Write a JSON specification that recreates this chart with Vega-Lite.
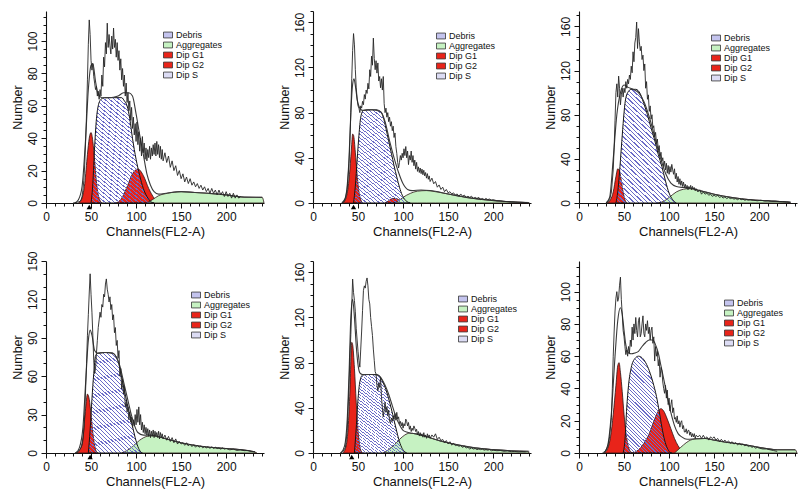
{
"$schema":"https://vega.github.io/schema/vega-lite/v6.json",
"padding":{"left":11,"top":10,"right":2,"bottom":2},
"config":{
 "view":{"stroke":null},
 "axis":{"domainColor":"#111","tickColor":"#111","labelColor":"#111","titleColor":"#111","labelFont":"Liberation Sans","titleFont":"Liberation Sans","labelFontSize":12,"titleFontSize":12.5,"titleFontWeight":"normal","grid":false,"domainWidth":1.1,"tickWidth":1,"labelOverlap":false,"labelFlush":false},
 "legend":{"labelFont":"Liberation Sans","labelFontSize":9,"labelColor":"#111","symbolType":"M-1,-0.65H1V0.65H-1Z","symbolSize":81,"symbolStrokeColor":"#333","symbolStrokeWidth":0.8,"rowPadding":0,"labelOffset":3,"padding":0,"symbolOpacity":1}
},
"datasets":{
"c1":[{"c":"Dip G1","x":36,"y":0},{"c":"Dip G1","x":40,"y":3},{"c":"Dip G1","x":43,"y":12},{"c":"Dip G1","x":46,"y":30},{"c":"Dip G1","x":48,"y":40},{"c":"Dip G1","x":50,"y":43.5},{"c":"Dip G1","x":52,"y":38},{"c":"Dip G1","x":54,"y":26},{"c":"Dip G1","x":56,"y":13},{"c":"Dip G1","x":58,"y":5},{"c":"Dip G1","x":60,"y":1.5},{"c":"Dip G1","x":62,"y":0},
{"c":"Dip G2","x":78,"y":0},{"c":"Dip G2","x":84,"y":3},{"c":"Dip G2","x":90,"y":10},{"c":"Dip G2","x":96,"y":18},{"c":"Dip G2","x":102,"y":21},{"c":"Dip G2","x":108,"y":17},{"c":"Dip G2","x":114,"y":9},{"c":"Dip G2","x":120,"y":3},{"c":"Dip G2","x":125,"y":0},
{"c":"Aggregates","x":112,"y":0},{"c":"Aggregates","x":118,"y":2},{"c":"Aggregates","x":125,"y":4.5},{"c":"Aggregates","x":135,"y":6},{"c":"Aggregates","x":150,"y":7},{"c":"Aggregates","x":165,"y":6.5},{"c":"Aggregates","x":180,"y":6},{"c":"Aggregates","x":200,"y":5},{"c":"Aggregates","x":212,"y":4},{"c":"Aggregates","x":220,"y":3.6},{"c":"Aggregates","x":240,"y":3.5},{"c":"Aggregates","x":242,"y":0}],
"s1":[{"x":50,"y":0},{"x":52,"y":12},{"x":54,"y":35},{"x":56,"y":52},{"x":58,"y":60},{"x":61,"y":64},{"x":65,"y":65},{"x":75,"y":65},{"x":84,"y":65},{"x":87,"y":63},{"x":90,"y":60},{"x":93,"y":52},{"x":96,"y":40},{"x":100,"y":27},{"x":104,"y":17},{"x":108,"y":9},{"x":112,"y":4},{"x":116,"y":1},{"x":120,"y":0}],
"f1":[{"x":32,"y":0},{"x":36,"y":2},{"x":40,"y":10},{"x":44,"y":40},{"x":47,"y":70},{"x":50,"y":85},{"x":52,"y":86},{"x":55,"y":75},{"x":58,"y":67},{"x":62,"y":65},{"x":70,"y":65},{"x":80,"y":66},{"x":86,"y":68},{"x":92,"y":68},{"x":96,"y":66},{"x":100,"y":55},{"x":104,"y":42},{"x":108,"y":30},{"x":112,"y":18},{"x":116,"y":11},{"x":120,"y":7},{"x":125,"y":5.5},{"x":135,"y":6.2},{"x":150,"y":7},{"x":165,"y":6.5},{"x":180,"y":6},{"x":200,"y":5},{"x":212,"y":4},{"x":220,"y":3.6},{"x":240,"y":3.5}],
"r1":[{"x":30,"y":0},{"x":35,"y":0.5},{"x":38,"y":1},{"x":39,"y":2},{"x":40,"y":4},{"x":41,"y":8},{"x":42,"y":14},{"x":43,"y":24},{"x":44,"y":38},{"x":45,"y":55},{"x":46,"y":76},{"x":47,"y":98},{"x":48,"y":113},{"x":49,"y":104},{"x":50,"y":88},{"x":51,"y":82},{"x":52,"y":86},{"x":53,"y":78},{"x":54,"y":74},{"x":55,"y":70},{"x":56,"y":72},{"x":57,"y":66},{"x":58,"y":69},{"x":59,"y":64},{"x":60,"y":70},{"x":61,"y":66},{"x":62,"y":79},{"x":63,"y":72},{"x":64,"y":90},{"x":65,"y":84},{"x":66,"y":99},{"x":67,"y":92},{"x":68,"y":111},{"x":69,"y":96},{"x":70,"y":104},{"x":71,"y":97},{"x":72,"y":92},{"x":73,"y":103},{"x":74,"y":95},{"x":75,"y":108},{"x":76,"y":96},{"x":77,"y":101},{"x":78,"y":90},{"x":79,"y":99},{"x":80,"y":88},{"x":81,"y":94},{"x":82,"y":82},{"x":83,"y":89},{"x":84,"y":76},{"x":85,"y":83},{"x":86,"y":72},{"x":87,"y":79},{"x":88,"y":66},{"x":89,"y":74},{"x":90,"y":62},{"x":91,"y":68},{"x":92,"y":57},{"x":93,"y":63},{"x":94,"y":51},{"x":95,"y":59},{"x":96,"y":46},{"x":97,"y":53},{"x":98,"y":42},{"x":99,"y":49},{"x":100,"y":38},{"x":101,"y":50},{"x":102,"y":36},{"x":103,"y":44},{"x":104,"y":32},{"x":105,"y":40},{"x":106,"y":29},{"x":107,"y":41},{"x":108,"y":31},{"x":109,"y":37},{"x":110,"y":27},{"x":111,"y":34},{"x":112,"y":26},{"x":113,"y":33},{"x":114,"y":28},{"x":115,"y":35},{"x":116,"y":27},{"x":117,"y":34},{"x":118,"y":29},{"x":119,"y":36},{"x":120,"y":30},{"x":121,"y":37},{"x":122,"y":29},{"x":123,"y":38},{"x":124,"y":30},{"x":125,"y":36},{"x":126,"y":28},{"x":127,"y":35},{"x":128,"y":27},{"x":129,"y":33},{"x":130,"y":26},{"x":132,"y":31},{"x":134,"y":25},{"x":136,"y":29},{"x":138,"y":22},{"x":140,"y":26},{"x":142,"y":20},{"x":144,"y":23},{"x":146,"y":17},{"x":148,"y":20},{"x":150,"y":15},{"x":152,"y":18},{"x":154,"y":13},{"x":156,"y":16},{"x":158,"y":12},{"x":160,"y":15},{"x":162,"y":11},{"x":164,"y":13},{"x":166,"y":10},{"x":168,"y":12},{"x":170,"y":9},{"x":172,"y":11},{"x":174,"y":8},{"x":176,"y":10},{"x":178,"y":7},{"x":180,"y":9},{"x":182,"y":6},{"x":184,"y":9},{"x":186,"y":6},{"x":188,"y":8},{"x":190,"y":5},{"x":192,"y":8},{"x":194,"y":5},{"x":196,"y":7},{"x":198,"y":4},{"x":200,"y":7},{"x":202,"y":4},{"x":204,"y":6},{"x":206,"y":3},{"x":208,"y":6},{"x":210,"y":3},{"x":212,"y":5},{"x":214,"y":3},{"x":216,"y":4}],
"t1":[{"x":48,"y":0}],
"c2":[{"c":"Dip G1","x":33,"y":0},{"c":"Dip G1","x":36,"y":3},{"c":"Dip G1","x":39,"y":14},{"c":"Dip G1","x":41,"y":30},{"c":"Dip G1","x":43,"y":52},{"c":"Dip G1","x":44,"y":61},{"c":"Dip G1","x":45,"y":60},{"c":"Dip G1","x":47,"y":45},{"c":"Dip G1","x":49,"y":25},{"c":"Dip G1","x":51,"y":10},{"c":"Dip G1","x":53,"y":3},{"c":"Dip G1","x":55,"y":0},
{"c":"Dip G2","x":80,"y":0},{"c":"Dip G2","x":84,"y":2},{"c":"Dip G2","x":88,"y":4},{"c":"Dip G2","x":92,"y":4},{"c":"Dip G2","x":96,"y":2.5},{"c":"Dip G2","x":100,"y":0.5},{"c":"Dip G2","x":103,"y":0},
{"c":"Aggregates","x":90,"y":0},{"c":"Aggregates","x":95,"y":2},{"c":"Aggregates","x":100,"y":5},{"c":"Aggregates","x":108,"y":8.5},{"c":"Aggregates","x":116,"y":10.5},{"c":"Aggregates","x":126,"y":11},{"c":"Aggregates","x":136,"y":10},{"c":"Aggregates","x":150,"y":8},{"c":"Aggregates","x":170,"y":5},{"c":"Aggregates","x":190,"y":3},{"c":"Aggregates","x":210,"y":1.5},{"c":"Aggregates","x":230,"y":0.7},{"c":"Aggregates","x":238,"y":0.3},{"c":"Aggregates","x":240,"y":0}],
"s2":[{"x":45,"y":0},{"x":47,"y":15},{"x":49,"y":38},{"x":51,"y":60},{"x":53,"y":76},{"x":56,"y":82},{"x":60,"y":82.5},{"x":70,"y":82.5},{"x":75,"y":81},{"x":78,"y":76},{"x":81,"y":66},{"x":84,"y":55},{"x":87,"y":44},{"x":90,"y":33},{"x":93,"y":23},{"x":96,"y":14},{"x":99,"y":7},{"x":102,"y":3},{"x":106,"y":0.5},{"x":108,"y":0}],
"f2":[{"x":32,"y":0},{"x":36,"y":5},{"x":40,"y":40},{"x":42,"y":80},{"x":44,"y":105},{"x":45.5,"y":110},{"x":47,"y":104},{"x":49,"y":92},{"x":52,"y":84},{"x":55,"y":82},{"x":65,"y":82.5},{"x":75,"y":81},{"x":80,"y":72},{"x":85,"y":55},{"x":90,"y":40},{"x":95,"y":27},{"x":100,"y":17},{"x":105,"y":12},{"x":110,"y":11},{"x":120,"y":11.5},{"x":130,"y":11},{"x":150,"y":8},{"x":170,"y":5},{"x":190,"y":3},{"x":210,"y":1.5},{"x":230,"y":0.7},{"x":240,"y":0.3}],
"r2":[{"x":32,"y":0},{"x":34,"y":1},{"x":36,"y":4},{"x":38,"y":12},{"x":40,"y":35},{"x":41,"y":55},{"x":42,"y":80},{"x":43,"y":110},{"x":44,"y":135},{"x":45,"y":150},{"x":46,"y":140},{"x":47,"y":118},{"x":48,"y":102},{"x":49,"y":92},{"x":50,"y":86},{"x":51,"y":84},{"x":52,"y":80},{"x":53,"y":86},{"x":54,"y":84},{"x":55,"y":90},{"x":56,"y":87},{"x":57,"y":96},{"x":58,"y":92},{"x":59,"y":100},{"x":60,"y":97},{"x":61,"y":106},{"x":62,"y":101},{"x":63,"y":118},{"x":64,"y":112},{"x":65,"y":130},{"x":66,"y":122},{"x":67,"y":146},{"x":68,"y":128},{"x":69,"y":118},{"x":70,"y":126},{"x":71,"y":115},{"x":72,"y":124},{"x":73,"y":108},{"x":74,"y":112},{"x":75,"y":102},{"x":76,"y":110},{"x":77,"y":100},{"x":78,"y":112},{"x":79,"y":88},{"x":80,"y":80},{"x":81,"y":84},{"x":82,"y":76},{"x":83,"y":80},{"x":84,"y":72},{"x":85,"y":76},{"x":86,"y":68},{"x":87,"y":72},{"x":88,"y":64},{"x":89,"y":68},{"x":90,"y":58},{"x":91,"y":62},{"x":92,"y":50},{"x":93,"y":44},{"x":94,"y":36},{"x":95,"y":31},{"x":96,"y":36},{"x":97,"y":42},{"x":98,"y":38},{"x":99,"y":44},{"x":100,"y":40},{"x":101,"y":48},{"x":102,"y":42},{"x":103,"y":50},{"x":104,"y":40},{"x":105,"y":46},{"x":106,"y":34},{"x":107,"y":42},{"x":108,"y":38},{"x":109,"y":46},{"x":110,"y":36},{"x":111,"y":42},{"x":112,"y":33},{"x":113,"y":38},{"x":114,"y":30},{"x":115,"y":36},{"x":116,"y":28},{"x":117,"y":32},{"x":118,"y":27},{"x":119,"y":31},{"x":120,"y":26},{"x":121,"y":30},{"x":122,"y":25},{"x":123,"y":29},{"x":124,"y":24},{"x":125,"y":27},{"x":126,"y":22},{"x":127,"y":26},{"x":128,"y":21},{"x":129,"y":24},{"x":130,"y":19},{"x":132,"y":22},{"x":134,"y":17},{"x":136,"y":19},{"x":138,"y":14},{"x":140,"y":16},{"x":142,"y":12},{"x":144,"y":14},{"x":146,"y":10},{"x":148,"y":12},{"x":150,"y":9},{"x":152,"y":10},{"x":154,"y":8},{"x":156,"y":9},{"x":158,"y":7},{"x":160,"y":8},{"x":162,"y":6},{"x":164,"y":8},{"x":166,"y":6},{"x":168,"y":7},{"x":170,"y":5},{"x":172,"y":6},{"x":174,"y":5},{"x":176,"y":6},{"x":178,"y":4},{"x":180,"y":5},{"x":182,"y":4},{"x":184,"y":5},{"x":186,"y":3},{"x":188,"y":4},{"x":190,"y":3},{"x":192,"y":4},{"x":194,"y":3},{"x":196,"y":3.5},{"x":198,"y":2.5},{"x":200,"y":3},{"x":204,"y":2},{"x":208,"y":2},{"x":212,"y":1.5},{"x":216,"y":1.2},{"x":220,"y":1},{"x":225,"y":0.8},{"x":230,"y":0.6},{"x":235,"y":0.4},{"x":238,"y":0.3}],
"t2":[{"x":45,"y":0}],
"c3":[{"c":"Dip G1","x":31,"y":0},{"c":"Dip G1","x":35,"y":3},{"c":"Dip G1","x":38,"y":10},{"c":"Dip G1","x":41,"y":24},{"c":"Dip G1","x":43,"y":31},{"c":"Dip G1","x":45,"y":29},{"c":"Dip G1","x":47,"y":20},{"c":"Dip G1","x":49,"y":10},{"c":"Dip G1","x":51,"y":3},{"c":"Dip G1","x":53,"y":0},
{"c":"Aggregates","x":88,"y":0},{"c":"Aggregates","x":95,"y":2},{"c":"Aggregates","x":100,"y":5},{"c":"Aggregates","x":108,"y":10},{"c":"Aggregates","x":116,"y":12.5},{"c":"Aggregates","x":122,"y":13},{"c":"Aggregates","x":130,"y":12},{"c":"Aggregates","x":140,"y":10},{"c":"Aggregates","x":150,"y":8},{"c":"Aggregates","x":170,"y":5},{"c":"Aggregates","x":190,"y":3},{"c":"Aggregates","x":210,"y":2},{"c":"Aggregates","x":225,"y":1.2},{"c":"Aggregates","x":232,"y":0.8},{"c":"Aggregates","x":235,"y":0}],
"s3":[{"x":41,"y":0},{"x":43,"y":10},{"x":45,"y":28},{"x":47,"y":50},{"x":49,"y":72},{"x":51,"y":90},{"x":54,"y":100},{"x":58,"y":103},{"x":63,"y":103},{"x":68,"y":99},{"x":72,"y":90},{"x":76,"y":80},{"x":80,"y":68},{"x":84,"y":57},{"x":88,"y":44},{"x":92,"y":33},{"x":96,"y":20},{"x":100,"y":9},{"x":104,"y":3},{"x":108,"y":0}],
"f3":[{"x":30,"y":0},{"x":34,"y":5},{"x":38,"y":40},{"x":42,"y":80},{"x":46,"y":100},{"x":50,"y":107},{"x":54,"y":105},{"x":60,"y":103},{"x":66,"y":100},{"x":72,"y":92},{"x":78,"y":78},{"x":84,"y":60},{"x":90,"y":42},{"x":96,"y":27},{"x":102,"y":18},{"x":108,"y":15},{"x":116,"y":14},{"x":124,"y":13.5},{"x":135,"y":11},{"x":150,"y":8},{"x":170,"y":5},{"x":190,"y":3},{"x":210,"y":2},{"x":225,"y":1.2},{"x":235,"y":0.8}],
"r3":[{"x":30,"y":0},{"x":32,"y":1},{"x":34,"y":3},{"x":36,"y":10},{"x":38,"y":30},{"x":39,"y":50},{"x":40,"y":75},{"x":41,"y":100},{"x":42,"y":108},{"x":43,"y":96},{"x":44,"y":115},{"x":45,"y":104},{"x":46,"y":89},{"x":47,"y":98},{"x":48,"y":104},{"x":49,"y":96},{"x":50,"y":104},{"x":51,"y":100},{"x":52,"y":110},{"x":53,"y":104},{"x":54,"y":112},{"x":55,"y":108},{"x":56,"y":116},{"x":57,"y":112},{"x":58,"y":124},{"x":59,"y":118},{"x":60,"y":137},{"x":61,"y":128},{"x":62,"y":145},{"x":63,"y":150},{"x":64,"y":164},{"x":65,"y":140},{"x":66,"y":158},{"x":67,"y":146},{"x":68,"y":138},{"x":69,"y":142},{"x":70,"y":130},{"x":71,"y":134},{"x":72,"y":120},{"x":73,"y":126},{"x":74,"y":104},{"x":75,"y":110},{"x":76,"y":94},{"x":77,"y":98},{"x":78,"y":83},{"x":79,"y":88},{"x":80,"y":76},{"x":81,"y":80},{"x":82,"y":68},{"x":83,"y":70},{"x":84,"y":60},{"x":85,"y":64},{"x":86,"y":54},{"x":87,"y":58},{"x":88,"y":48},{"x":89,"y":52},{"x":90,"y":42},{"x":91,"y":46},{"x":92,"y":38},{"x":93,"y":41},{"x":94,"y":33},{"x":95,"y":38},{"x":96,"y":30},{"x":97,"y":36},{"x":98,"y":27},{"x":99,"y":34},{"x":100,"y":26},{"x":101,"y":33},{"x":102,"y":28},{"x":103,"y":35},{"x":104,"y":30},{"x":105,"y":26},{"x":106,"y":31},{"x":107,"y":22},{"x":108,"y":27},{"x":109,"y":19},{"x":110,"y":24},{"x":111,"y":17},{"x":112,"y":22},{"x":113,"y":16},{"x":114,"y":20},{"x":115,"y":15},{"x":116,"y":19},{"x":117,"y":14},{"x":118,"y":17},{"x":119,"y":13},{"x":120,"y":16},{"x":121,"y":12},{"x":122,"y":15},{"x":123,"y":13},{"x":124,"y":16},{"x":125,"y":12},{"x":126,"y":15},{"x":127,"y":13},{"x":128,"y":14},{"x":129,"y":11},{"x":130,"y":13},{"x":132,"y":10},{"x":134,"y":12},{"x":136,"y":8},{"x":138,"y":10},{"x":140,"y":8},{"x":142,"y":9},{"x":144,"y":7},{"x":146,"y":8},{"x":148,"y":6},{"x":150,"y":7},{"x":152,"y":6},{"x":154,"y":7},{"x":156,"y":5},{"x":158,"y":6},{"x":160,"y":4.5},{"x":162,"y":5.5},{"x":164,"y":4},{"x":166,"y":5},{"x":168,"y":4},{"x":170,"y":4.5},{"x":172,"y":3.5},{"x":174,"y":4},{"x":176,"y":3},{"x":178,"y":4},{"x":180,"y":3},{"x":182,"y":3.5},{"x":184,"y":2.5},{"x":186,"y":3},{"x":188,"y":2.5},{"x":190,"y":3},{"x":194,"y":2.5},{"x":198,"y":2},{"x":202,"y":2.5},{"x":206,"y":1.8},{"x":210,"y":2},{"x":214,"y":1.5},{"x":218,"y":1.6},{"x":222,"y":1.2},{"x":226,"y":1.3},{"x":230,"y":1},{"x":234,"y":0.8}],
"c4":[{"c":"Dip G1","x":34,"y":0},{"c":"Dip G1","x":38,"y":3},{"c":"Dip G1","x":41,"y":12},{"c":"Dip G1","x":44,"y":35},{"c":"Dip G1","x":46,"y":46},{"c":"Dip G1","x":48,"y":42},{"c":"Dip G1","x":50,"y":30},{"c":"Dip G1","x":52,"y":16},{"c":"Dip G1","x":54,"y":6},{"c":"Dip G1","x":56,"y":1},{"c":"Dip G1","x":58,"y":0},
{"c":"Aggregates","x":84,"y":0},{"c":"Aggregates","x":90,"y":2},{"c":"Aggregates","x":96,"y":5},{"c":"Aggregates","x":104,"y":10},{"c":"Aggregates","x":112,"y":13},{"c":"Aggregates","x":118,"y":13.5},{"c":"Aggregates","x":126,"y":12.5},{"c":"Aggregates","x":136,"y":10.5},{"c":"Aggregates","x":150,"y":8},{"c":"Aggregates","x":170,"y":5.5},{"c":"Aggregates","x":190,"y":4},{"c":"Aggregates","x":210,"y":3},{"c":"Aggregates","x":225,"y":1.8},{"c":"Aggregates","x":232,"y":0.8},{"c":"Aggregates","x":234,"y":0}],
"s4":[{"x":47,"y":0},{"x":49,"y":18},{"x":51,"y":42},{"x":53,"y":62},{"x":55,"y":76},{"x":58,"y":78},{"x":66,"y":78.5},{"x":74,"y":78},{"x":78,"y":75},{"x":81,"y":69},{"x":84,"y":59},{"x":87,"y":49},{"x":90,"y":39},{"x":93,"y":30},{"x":96,"y":21},{"x":99,"y":12},{"x":102,"y":5},{"x":105,"y":1},{"x":107,"y":0}],
"f4":[{"x":33,"y":0},{"x":37,"y":4},{"x":41,"y":20},{"x":44,"y":55},{"x":47,"y":88},{"x":49,"y":96},{"x":51,"y":92},{"x":54,"y":80},{"x":57,"y":78},{"x":65,"y":78.5},{"x":74,"y":78},{"x":78,"y":75},{"x":82,"y":68},{"x":86,"y":56},{"x":90,"y":44},{"x":94,"y":32},{"x":98,"y":22},{"x":102,"y":16},{"x":108,"y":14},{"x":116,"y":14},{"x":126,"y":12.5},{"x":136,"y":10.5},{"x":150,"y":8},{"x":170,"y":5.5},{"x":190,"y":4},{"x":210,"y":3},{"x":225,"y":1.8},{"x":232,"y":1}],
"r4":[{"x":32,"y":0},{"x":35,"y":1},{"x":38,"y":3},{"x":40,"y":6},{"x":41,"y":10},{"x":42,"y":18},{"x":43,"y":30},{"x":44,"y":50},{"x":45,"y":70},{"x":46,"y":92},{"x":47,"y":108},{"x":48,"y":125},{"x":49,"y":140},{"x":50,"y":124},{"x":51,"y":110},{"x":52,"y":92},{"x":53,"y":72},{"x":54,"y":62},{"x":55,"y":66},{"x":56,"y":78},{"x":57,"y":88},{"x":58,"y":98},{"x":59,"y":104},{"x":60,"y":110},{"x":61,"y":106},{"x":62,"y":116},{"x":63,"y":114},{"x":64,"y":124},{"x":65,"y":122},{"x":66,"y":132},{"x":67,"y":136},{"x":68,"y":128},{"x":69,"y":124},{"x":70,"y":118},{"x":71,"y":122},{"x":72,"y":112},{"x":73,"y":116},{"x":74,"y":104},{"x":75,"y":108},{"x":76,"y":94},{"x":77,"y":98},{"x":78,"y":84},{"x":79,"y":88},{"x":80,"y":74},{"x":81,"y":80},{"x":82,"y":60},{"x":83,"y":66},{"x":84,"y":50},{"x":85,"y":58},{"x":86,"y":46},{"x":87,"y":52},{"x":88,"y":36},{"x":89,"y":40},{"x":90,"y":32},{"x":91,"y":36},{"x":92,"y":26},{"x":93,"y":32},{"x":94,"y":24},{"x":95,"y":28},{"x":96,"y":20},{"x":97,"y":26},{"x":98,"y":21},{"x":99,"y":30},{"x":100,"y":22},{"x":101,"y":34},{"x":102,"y":24},{"x":103,"y":36},{"x":104,"y":22},{"x":105,"y":30},{"x":106,"y":18},{"x":107,"y":24},{"x":108,"y":16},{"x":109,"y":22},{"x":110,"y":15},{"x":111,"y":20},{"x":112,"y":14},{"x":113,"y":19},{"x":114,"y":13},{"x":115,"y":18},{"x":116,"y":12},{"x":117,"y":17},{"x":118,"y":13},{"x":119,"y":18},{"x":120,"y":12},{"x":121,"y":17},{"x":122,"y":13},{"x":123,"y":16},{"x":124,"y":12},{"x":125,"y":17},{"x":126,"y":11},{"x":127,"y":16},{"x":128,"y":12},{"x":129,"y":15},{"x":130,"y":11},{"x":132,"y":14},{"x":134,"y":10},{"x":136,"y":13},{"x":138,"y":9},{"x":140,"y":12},{"x":142,"y":8},{"x":144,"y":11},{"x":146,"y":7},{"x":148,"y":9},{"x":150,"y":7},{"x":152,"y":8},{"x":154,"y":6},{"x":156,"y":8},{"x":158,"y":5.5},{"x":160,"y":7},{"x":162,"y":5},{"x":164,"y":6.5},{"x":166,"y":4.5},{"x":168,"y":6},{"x":170,"y":4.5},{"x":172,"y":5.5},{"x":174,"y":4},{"x":176,"y":5},{"x":178,"y":4},{"x":180,"y":5},{"x":182,"y":3.5},{"x":184,"y":5},{"x":186,"y":3.5},{"x":188,"y":4.5},{"x":190,"y":3.5},{"x":192,"y":4},{"x":194,"y":3},{"x":196,"y":4},{"x":198,"y":3},{"x":200,"y":3.5},{"x":204,"y":2.5},{"x":208,"y":3},{"x":212,"y":2},{"x":216,"y":2.5},{"x":220,"y":1.8},{"x":224,"y":2},{"x":228,"y":1.2},{"x":232,"y":0.8}],
"t4":[{"x":49,"y":0}],
"c5":[{"c":"Dip G1","x":33,"y":0},{"c":"Dip G1","x":36,"y":4},{"c":"Dip G1","x":39,"y":22},{"c":"Dip G1","x":41,"y":55},{"c":"Dip G1","x":43,"y":98},{"c":"Dip G1","x":44,"y":96},{"c":"Dip G1","x":46,"y":75},{"c":"Dip G1","x":48,"y":45},{"c":"Dip G1","x":50,"y":20},{"c":"Dip G1","x":52,"y":6},{"c":"Dip G1","x":54,"y":1},{"c":"Dip G1","x":56,"y":0},
{"c":"Aggregates","x":78,"y":0},{"c":"Aggregates","x":84,"y":3},{"c":"Aggregates","x":90,"y":7},{"c":"Aggregates","x":96,"y":12},{"c":"Aggregates","x":102,"y":16},{"c":"Aggregates","x":107,"y":17.5},{"c":"Aggregates","x":114,"y":17},{"c":"Aggregates","x":122,"y":15.5},{"c":"Aggregates","x":132,"y":13},{"c":"Aggregates","x":142,"y":10.5},{"c":"Aggregates","x":150,"y":9},{"c":"Aggregates","x":165,"y":6.5},{"c":"Aggregates","x":180,"y":4.5},{"c":"Aggregates","x":200,"y":3},{"c":"Aggregates","x":220,"y":2},{"c":"Aggregates","x":238,"y":1.5},{"c":"Aggregates","x":240,"y":0}],
"s5":[{"x":46,"y":0},{"x":48,"y":22},{"x":50,"y":48},{"x":52,"y":63},{"x":55,"y":69},{"x":62,"y":69.5},{"x":70,"y":69.5},{"x":74,"y":68},{"x":78,"y":62},{"x":81,"y":56},{"x":84,"y":48},{"x":87,"y":39},{"x":90,"y":29},{"x":93,"y":19},{"x":96,"y":10},{"x":99,"y":4},{"x":102,"y":1},{"x":104,"y":0}],
"f5":[{"x":31,"y":0},{"x":35,"y":6},{"x":38,"y":30},{"x":40,"y":70},{"x":42,"y":120},{"x":44,"y":136},{"x":46,"y":120},{"x":48,"y":95},{"x":50,"y":78},{"x":52,"y":71},{"x":55,"y":69.5},{"x":65,"y":69.5},{"x":72,"y":69},{"x":76,"y":66},{"x":80,"y":60},{"x":84,"y":52},{"x":88,"y":42},{"x":92,"y":32},{"x":96,"y":25},{"x":100,"y":20},{"x":104,"y":18.5},{"x":110,"y":17.5},{"x":120,"y":16},{"x":130,"y":13.5},{"x":142,"y":10.5},{"x":150,"y":9},{"x":165,"y":6.5},{"x":180,"y":4.5},{"x":200,"y":3},{"x":220,"y":2},{"x":240,"y":1.5}],
"r5":[{"x":30,"y":0},{"x":33,"y":1},{"x":36,"y":5},{"x":38,"y":20},{"x":40,"y":60},{"x":41,"y":85},{"x":42,"y":105},{"x":43,"y":130},{"x":44,"y":154},{"x":45,"y":142},{"x":46,"y":135},{"x":47,"y":125},{"x":48,"y":110},{"x":49,"y":100},{"x":50,"y":90},{"x":51,"y":82},{"x":52,"y":76},{"x":53,"y":92},{"x":54,"y":108},{"x":55,"y":126},{"x":56,"y":144},{"x":57,"y":148},{"x":58,"y":146},{"x":59,"y":152},{"x":60,"y":155},{"x":61,"y":148},{"x":62,"y":136},{"x":63,"y":132},{"x":64,"y":120},{"x":65,"y":112},{"x":66,"y":104},{"x":67,"y":92},{"x":68,"y":82},{"x":69,"y":72},{"x":70,"y":70},{"x":71,"y":60},{"x":72,"y":55},{"x":73,"y":62},{"x":74,"y":58},{"x":75,"y":67},{"x":76,"y":50},{"x":77,"y":40},{"x":78,"y":32},{"x":79,"y":38},{"x":80,"y":45},{"x":81,"y":36},{"x":82,"y":41},{"x":83,"y":33},{"x":84,"y":38},{"x":85,"y":28},{"x":86,"y":26},{"x":87,"y":31},{"x":88,"y":28},{"x":89,"y":33},{"x":90,"y":30},{"x":91,"y":35},{"x":92,"y":29},{"x":93,"y":36},{"x":94,"y":30},{"x":95,"y":32},{"x":96,"y":26},{"x":97,"y":28},{"x":98,"y":24},{"x":99,"y":27},{"x":100,"y":22},{"x":101,"y":26},{"x":102,"y":24},{"x":103,"y":30},{"x":104,"y":28},{"x":105,"y":24},{"x":106,"y":27},{"x":107,"y":21},{"x":108,"y":24},{"x":109,"y":19},{"x":110,"y":22},{"x":111,"y":20},{"x":112,"y":24},{"x":113,"y":22},{"x":114,"y":19},{"x":115,"y":21},{"x":116,"y":16},{"x":117,"y":19},{"x":118,"y":15},{"x":119,"y":18},{"x":120,"y":15},{"x":121,"y":17},{"x":122,"y":14},{"x":123,"y":18},{"x":124,"y":14},{"x":125,"y":16},{"x":126,"y":13},{"x":127,"y":17},{"x":128,"y":14},{"x":129,"y":16},{"x":130,"y":13},{"x":132,"y":16},{"x":134,"y":14},{"x":136,"y":17},{"x":138,"y":12},{"x":140,"y":14},{"x":142,"y":11},{"x":144,"y":12},{"x":146,"y":9},{"x":148,"y":11},{"x":150,"y":8},{"x":152,"y":10},{"x":154,"y":7},{"x":156,"y":8.5},{"x":158,"y":6.5},{"x":160,"y":7},{"x":162,"y":6},{"x":164,"y":6.5},{"x":166,"y":5},{"x":168,"y":6},{"x":170,"y":4.5},{"x":172,"y":5},{"x":174,"y":3.5},{"x":176,"y":4.5},{"x":178,"y":3.5},{"x":180,"y":4},{"x":182,"y":3},{"x":184,"y":3.5},{"x":186,"y":3},{"x":188,"y":3.5},{"x":190,"y":2.5},{"x":192,"y":3},{"x":194,"y":2.5},{"x":196,"y":3},{"x":198,"y":2},{"x":200,"y":2.5},{"x":204,"y":2},{"x":208,"y":2.2},{"x":212,"y":1.5},{"x":216,"y":1.8},{"x":220,"y":1.2},{"x":224,"y":1.4},{"x":228,"y":1},{"x":232,"y":1.2},{"x":236,"y":1}],
"t5":[{"x":43,"y":0}],
"c6":[{"c":"Dip G1","x":28,"y":0},{"c":"Dip G1","x":32,"y":3},{"c":"Dip G1","x":35,"y":10},{"c":"Dip G1","x":38,"y":24},{"c":"Dip G1","x":41,"y":42},{"c":"Dip G1","x":43,"y":54},{"c":"Dip G1","x":44.5,"y":56},{"c":"Dip G1","x":46,"y":50},{"c":"Dip G1","x":48,"y":38},{"c":"Dip G1","x":50,"y":24},{"c":"Dip G1","x":52,"y":13},{"c":"Dip G1","x":54,"y":6},{"c":"Dip G1","x":56,"y":2},{"c":"Dip G1","x":58,"y":0.5},{"c":"Dip G1","x":60,"y":0},
{"c":"Dip G2","x":60,"y":0},{"c":"Dip G2","x":66,"y":2},{"c":"Dip G2","x":72,"y":6},{"c":"Dip G2","x":78,"y":12},{"c":"Dip G2","x":84,"y":21},{"c":"Dip G2","x":88,"y":26},{"c":"Dip G2","x":91,"y":27.5},{"c":"Dip G2","x":94,"y":26},{"c":"Dip G2","x":98,"y":21},{"c":"Dip G2","x":102,"y":15},{"c":"Dip G2","x":106,"y":9},{"c":"Dip G2","x":110,"y":4.5},{"c":"Dip G2","x":114,"y":1.5},{"c":"Dip G2","x":118,"y":0.3},{"c":"Dip G2","x":120,"y":0},
{"c":"Aggregates","x":106,"y":0},{"c":"Aggregates","x":110,"y":2},{"c":"Aggregates","x":116,"y":5},{"c":"Aggregates","x":122,"y":7.5},{"c":"Aggregates","x":130,"y":8.8},{"c":"Aggregates","x":140,"y":9},{"c":"Aggregates","x":150,"y":8},{"c":"Aggregates","x":165,"y":6.5},{"c":"Aggregates","x":180,"y":5.5},{"c":"Aggregates","x":195,"y":4},{"c":"Aggregates","x":208,"y":2.8},{"c":"Aggregates","x":215,"y":2.2},{"c":"Aggregates","x":220,"y":2},{"c":"Aggregates","x":240,"y":2},{"c":"Aggregates","x":242,"y":0}],
"s6":[{"x":49,"y":0},{"x":51,"y":8},{"x":53,"y":28},{"x":55,"y":42},{"x":58,"y":53},{"x":62,"y":58.5},{"x":66,"y":60},{"x":70,"y":59},{"x":74,"y":56},{"x":78,"y":51},{"x":82,"y":44},{"x":86,"y":35},{"x":89,"y":26},{"x":92,"y":16},{"x":95,"y":8},{"x":98,"y":3},{"x":101,"y":0.5},{"x":103,"y":0}],
"f6":[{"x":28,"y":0},{"x":32,"y":5},{"x":36,"y":25},{"x":40,"y":60},{"x":43,"y":82},{"x":46,"y":90},{"x":48,"y":86},{"x":50,"y":76},{"x":52,"y":67},{"x":55,"y":62},{"x":58,"y":61.5},{"x":62,"y":62},{"x":66,"y":63},{"x":70,"y":66},{"x":74,"y":68.5},{"x":78,"y":70},{"x":82,"y":70},{"x":85,"y":67},{"x":88,"y":62},{"x":91,"y":54},{"x":94,"y":46},{"x":98,"y":35},{"x":102,"y":25},{"x":106,"y":17},{"x":110,"y":12},{"x":114,"y":10},{"x":120,"y":8.5},{"x":130,"y":8.8},{"x":140,"y":9},{"x":150,"y":8},{"x":165,"y":6.5},{"x":180,"y":5.5},{"x":195,"y":4},{"x":208,"y":2.8},{"x":220,"y":2},{"x":240,"y":2}],
"r6":[{"x":26,"y":0},{"x":29,"y":1},{"x":32,"y":4},{"x":34,"y":10},{"x":36,"y":22},{"x":37,"y":40},{"x":38,"y":60},{"x":39,"y":75},{"x":40,"y":88},{"x":41,"y":96},{"x":42,"y":100},{"x":43,"y":94},{"x":44,"y":96},{"x":45,"y":104},{"x":46,"y":109},{"x":47,"y":95},{"x":48,"y":86},{"x":49,"y":76},{"x":50,"y":72},{"x":51,"y":66},{"x":52,"y":61},{"x":53,"y":64},{"x":54,"y":60},{"x":55,"y":66},{"x":56,"y":62},{"x":57,"y":70},{"x":58,"y":66},{"x":59,"y":78},{"x":60,"y":70},{"x":61,"y":80},{"x":62,"y":74},{"x":63,"y":84},{"x":64,"y":76},{"x":65,"y":72},{"x":66,"y":82},{"x":67,"y":84},{"x":68,"y":72},{"x":69,"y":74},{"x":70,"y":80},{"x":71,"y":85},{"x":72,"y":74},{"x":73,"y":72},{"x":74,"y":80},{"x":75,"y":76},{"x":76,"y":82},{"x":77,"y":74},{"x":78,"y":78},{"x":79,"y":70},{"x":80,"y":76},{"x":81,"y":78},{"x":82,"y":68},{"x":83,"y":72},{"x":84,"y":57},{"x":85,"y":66},{"x":86,"y":60},{"x":87,"y":63},{"x":88,"y":54},{"x":89,"y":58},{"x":90,"y":47},{"x":91,"y":53},{"x":92,"y":51},{"x":93,"y":44},{"x":94,"y":40},{"x":95,"y":37},{"x":96,"y":42},{"x":97,"y":34},{"x":98,"y":39},{"x":99,"y":30},{"x":100,"y":34},{"x":101,"y":26},{"x":102,"y":30},{"x":103,"y":33},{"x":104,"y":25},{"x":105,"y":28},{"x":106,"y":21},{"x":107,"y":22},{"x":108,"y":19},{"x":109,"y":23},{"x":110,"y":18},{"x":111,"y":20},{"x":112,"y":16},{"x":113,"y":19},{"x":114,"y":20},{"x":115,"y":15},{"x":116,"y":17},{"x":117,"y":13},{"x":118,"y":13},{"x":119,"y":15},{"x":120,"y":12},{"x":121,"y":14},{"x":122,"y":14},{"x":123,"y":11},{"x":124,"y":13},{"x":125,"y":10},{"x":126,"y":12},{"x":127,"y":10},{"x":128,"y":12},{"x":129,"y":9},{"x":130,"y":11},{"x":132,"y":10},{"x":134,"y":11},{"x":136,"y":9},{"x":138,"y":11},{"x":140,"y":9},{"x":142,"y":10},{"x":144,"y":8},{"x":146,"y":10},{"x":148,"y":9},{"x":150,"y":10},{"x":152,"y":8},{"x":154,"y":9},{"x":156,"y":7},{"x":158,"y":8.5},{"x":160,"y":7},{"x":162,"y":8},{"x":164,"y":6.5},{"x":166,"y":7.5},{"x":168,"y":6},{"x":170,"y":7},{"x":172,"y":5.5},{"x":174,"y":6.5},{"x":176,"y":5},{"x":178,"y":6},{"x":180,"y":5},{"x":182,"y":5.5},{"x":184,"y":4.5},{"x":186,"y":5},{"x":188,"y":4},{"x":190,"y":4.5},{"x":192,"y":3.5},{"x":194,"y":4},{"x":196,"y":3},{"x":198,"y":3.5},{"x":200,"y":3},{"x":204,"y":2.5},{"x":208,"y":2.5},{"x":212,"y":2},{"x":216,"y":1.5},{"x":220,"y":1}]
},
"columns":3,
"spacing":{"row":12,"column":12},
"resolve":{"scale":{"fill":"independent"},"legend":{"fill":"independent"}},
"concat":[
{"width":218,"height":192,
 "encoding":{
  "x":{"field":"x","type":"quantitative","scale":{"domain":[0,242],"nice":false,"zero":false},"axis":{"title":"Channels(FL2-A)","values":[0,10,20,30,40,50,60,70,80,90,100,110,120,130,140,150,160,170,180,190,200,210,220,230,240],"labelExpr":"datum.value % 50 === 0 ? datum.label : ''","tickSize":{"condition":{"test":"datum.value % 50 === 0","value":5},"value":3},"labelPadding":3,"titlePadding":3,"titleFontSize":13}},
  "y":{"field":"y","type":"quantitative","stack":null,"scale":{"domain":[0,118.5],"nice":false},"axis":{"title":"Number","values":[0,5,10,15,20,25,30,35,40,45,50,55,60,65,70,75,80,85,90,95,100,105,110,115],"labelExpr":"datum.value % 20 === 0 ? datum.label : ''","tickSize":{"condition":{"test":"datum.value % 20 === 0","value":5},"value":3},"labelAngle":270,"labelAlign":"center","labelBaseline":"bottom","labelPadding":2,"titlePadding":2}}},
 "layer":[
  {"data":{"name":"c1"},"mark":{"type":"area","interpolate":"monotone","stroke":"#2a1414","strokeWidth":0.8,"fillOpacity":1},"encoding":{"fill":{"field":"c","type":"nominal","scale":{"domain":["Debris","Aggregates","Dip G1","Dip G2","Dip S"],"range":["#c4c4ee","#c6f2c2","#e8241a","#e8241a","#dcdcf4"]},"legend":{"title":null,"orient":"none","legendX":117,"legendY":19}}}},
  {"data":{"name":"s1"},"mark":{"type":"area","interpolate":"monotone","stroke":"#151515","strokeWidth":1,"fill":{"gradient":"linear","x1":0,"y1":1,"x2":1,"y2":-1,"stops":[{"offset":0,"color":"#6c6cc8"},{"offset":0.0045,"color":"#6c6cc8"},{"offset":0.0045,"color":"transparent"},{"offset":0.015,"color":"transparent"},{"offset":0.015,"color":"#6c6cc8"},{"offset":0.0195,"color":"#6c6cc8"},{"offset":0.0195,"color":"transparent"},{"offset":0.03,"color":"transparent"},{"offset":0.03,"color":"#6c6cc8"},{"offset":0.0345,"color":"#6c6cc8"},{"offset":0.0345,"color":"transparent"},{"offset":0.045,"color":"transparent"},{"offset":0.045,"color":"#6c6cc8"},{"offset":0.0495,"color":"#6c6cc8"},{"offset":0.0495,"color":"transparent"},{"offset":0.06,"color":"transparent"},{"offset":0.06,"color":"#6c6cc8"},{"offset":0.0645,"color":"#6c6cc8"},{"offset":0.0645,"color":"transparent"},{"offset":0.075,"color":"transparent"},{"offset":0.075,"color":"#6c6cc8"},{"offset":0.0795,"color":"#6c6cc8"},{"offset":0.0795,"color":"transparent"},{"offset":0.09,"color":"transparent"},{"offset":0.09,"color":"#6c6cc8"},{"offset":0.0945,"color":"#6c6cc8"},{"offset":0.0945,"color":"transparent"},{"offset":0.105,"color":"transparent"},{"offset":0.105,"color":"#6c6cc8"},{"offset":0.1095,"color":"#6c6cc8"},{"offset":0.1095,"color":"transparent"},{"offset":0.12,"color":"transparent"},{"offset":0.12,"color":"#6c6cc8"},{"offset":0.1245,"color":"#6c6cc8"},{"offset":0.1245,"color":"transparent"},{"offset":0.135,"color":"transparent"},{"offset":0.135,"color":"#6c6cc8"},{"offset":0.1395,"color":"#6c6cc8"},{"offset":0.1395,"color":"transparent"},{"offset":0.15,"color":"transparent"},{"offset":0.15,"color":"#6c6cc8"},{"offset":0.1545,"color":"#6c6cc8"},{"offset":0.1545,"color":"transparent"},{"offset":0.165,"color":"transparent"},{"offset":0.165,"color":"#6c6cc8"},{"offset":0.1695,"color":"#6c6cc8"},{"offset":0.1695,"color":"transparent"},{"offset":0.18,"color":"transparent"},{"offset":0.18,"color":"#6c6cc8"},{"offset":0.1845,"color":"#6c6cc8"},{"offset":0.1845,"color":"transparent"},{"offset":0.195,"color":"transparent"},{"offset":0.195,"color":"#6c6cc8"},{"offset":0.1995,"color":"#6c6cc8"},{"offset":0.1995,"color":"transparent"},{"offset":0.21,"color":"transparent"},{"offset":0.21,"color":"#6c6cc8"},{"offset":0.2145,"color":"#6c6cc8"},{"offset":0.2145,"color":"transparent"},{"offset":0.225,"color":"transparent"},{"offset":0.225,"color":"#6c6cc8"},{"offset":0.2295,"color":"#6c6cc8"},{"offset":0.2295,"color":"transparent"},{"offset":0.24,"color":"transparent"},{"offset":0.24,"color":"#6c6cc8"},{"offset":0.2445,"color":"#6c6cc8"},{"offset":0.2445,"color":"transparent"},{"offset":0.255,"color":"transparent"},{"offset":0.255,"color":"#6c6cc8"},{"offset":0.2595,"color":"#6c6cc8"},{"offset":0.2595,"color":"transparent"},{"offset":0.27,"color":"transparent"},{"offset":0.27,"color":"#6c6cc8"},{"offset":0.2745,"color":"#6c6cc8"},{"offset":0.2745,"color":"transparent"},{"offset":0.285,"color":"transparent"},{"offset":0.285,"color":"#6c6cc8"},{"offset":0.2895,"color":"#6c6cc8"},{"offset":0.2895,"color":"transparent"},{"offset":0.3,"color":"transparent"},{"offset":0.3,"color":"#6c6cc8"},{"offset":0.3045,"color":"#6c6cc8"},{"offset":0.3045,"color":"transparent"},{"offset":0.315,"color":"transparent"},{"offset":0.315,"color":"#6c6cc8"},{"offset":0.3195,"color":"#6c6cc8"},{"offset":0.3195,"color":"transparent"},{"offset":0.33,"color":"transparent"},{"offset":0.33,"color":"#6c6cc8"},{"offset":0.3345,"color":"#6c6cc8"},{"offset":0.3345,"color":"transparent"},{"offset":0.345,"color":"transparent"},{"offset":0.345,"color":"#6c6cc8"},{"offset":0.3495,"color":"#6c6cc8"},{"offset":0.3495,"color":"transparent"},{"offset":0.36,"color":"transparent"},{"offset":0.36,"color":"#6c6cc8"},{"offset":0.3645,"color":"#6c6cc8"},{"offset":0.3645,"color":"transparent"},{"offset":0.375,"color":"transparent"},{"offset":0.375,"color":"#6c6cc8"},{"offset":0.3795,"color":"#6c6cc8"},{"offset":0.3795,"color":"transparent"},{"offset":0.39,"color":"transparent"},{"offset":0.39,"color":"#6c6cc8"},{"offset":0.3945,"color":"#6c6cc8"},{"offset":0.3945,"color":"transparent"},{"offset":0.405,"color":"transparent"},{"offset":0.405,"color":"#6c6cc8"},{"offset":0.4095,"color":"#6c6cc8"},{"offset":0.4095,"color":"transparent"},{"offset":0.42,"color":"transparent"},{"offset":0.42,"color":"#6c6cc8"},{"offset":0.4245,"color":"#6c6cc8"},{"offset":0.4245,"color":"transparent"},{"offset":0.435,"color":"transparent"},{"offset":0.435,"color":"#6c6cc8"},{"offset":0.4395,"color":"#6c6cc8"},{"offset":0.4395,"color":"transparent"},{"offset":0.45,"color":"transparent"},{"offset":0.45,"color":"#6c6cc8"},{"offset":0.4545,"color":"#6c6cc8"},{"offset":0.4545,"color":"transparent"},{"offset":0.465,"color":"transparent"},{"offset":0.465,"color":"#6c6cc8"},{"offset":0.4695,"color":"#6c6cc8"},{"offset":0.4695,"color":"transparent"},{"offset":0.48,"color":"transparent"},{"offset":0.48,"color":"#6c6cc8"},{"offset":0.4845,"color":"#6c6cc8"},{"offset":0.4845,"color":"transparent"},{"offset":0.495,"color":"transparent"},{"offset":0.495,"color":"#6c6cc8"},{"offset":0.4995,"color":"#6c6cc8"},{"offset":0.4995,"color":"transparent"},{"offset":0.51,"color":"transparent"},{"offset":0.51,"color":"#6c6cc8"},{"offset":0.5145,"color":"#6c6cc8"},{"offset":0.5145,"color":"transparent"},{"offset":0.525,"color":"transparent"},{"offset":0.525,"color":"#6c6cc8"},{"offset":0.5295,"color":"#6c6cc8"},{"offset":0.5295,"color":"transparent"},{"offset":0.54,"color":"transparent"},{"offset":0.54,"color":"#6c6cc8"},{"offset":0.5445,"color":"#6c6cc8"},{"offset":0.5445,"color":"transparent"},{"offset":0.555,"color":"transparent"},{"offset":0.555,"color":"#6c6cc8"},{"offset":0.5595,"color":"#6c6cc8"},{"offset":0.5595,"color":"transparent"},{"offset":0.57,"color":"transparent"},{"offset":0.57,"color":"#6c6cc8"},{"offset":0.5745,"color":"#6c6cc8"},{"offset":0.5745,"color":"transparent"},{"offset":0.585,"color":"transparent"},{"offset":0.585,"color":"#6c6cc8"},{"offset":0.5895,"color":"#6c6cc8"},{"offset":0.5895,"color":"transparent"},{"offset":1,"color":"transparent"}]}},"encoding":{}},
  {"data":{"name":"f1"},"mark":{"type":"line","interpolate":"monotone","color":"#3a3a3a","strokeWidth":1.1},"encoding":{}},
  {"data":{"name":"r1"},"mark":{"type":"line","color":"#262626","strokeWidth":0.9},"encoding":{}},
  {"data":{"name":"t1"},"mark":{"type":"point","shape":"triangle-up","filled":true,"size":28,"color":"#000","opacity":1,"yOffset":4},"encoding":{}}
 ]},
{"width":218,"height":192,
 "encoding":{
  "x":{"field":"x","type":"quantitative","scale":{"domain":[0,242],"nice":false,"zero":false},"axis":{"title":"Channels(FL2-A)","values":[0,10,20,30,40,50,60,70,80,90,100,110,120,130,140,150,160,170,180,190,200,210,220,230,240],"labelExpr":"datum.value % 50 === 0 ? datum.label : ''","tickSize":{"condition":{"test":"datum.value % 50 === 0","value":5},"value":3},"labelPadding":3,"titlePadding":3,"titleFontSize":13}},
  "y":{"field":"y","type":"quantitative","stack":null,"scale":{"domain":[0,170],"nice":false},"axis":{"title":"Number","values":[0,10,20,30,40,50,60,70,80,90,100,110,120,130,140,150,160,170],"labelExpr":"datum.value % 40 === 0 ? datum.label : ''","tickSize":{"condition":{"test":"datum.value % 40 === 0","value":5},"value":3},"labelAngle":270,"labelAlign":"center","labelBaseline":"bottom","labelPadding":2,"titlePadding":2}}},
 "layer":[
  {"data":{"name":"c2"},"mark":{"type":"area","interpolate":"monotone","stroke":"#2a1414","strokeWidth":0.8,"fillOpacity":1},"encoding":{"fill":{"field":"c","type":"nominal","scale":{"domain":["Debris","Aggregates","Dip G1","Dip G2","Dip S"],"range":["#c4c4ee","#c6f2c2","#e8241a","#e8241a","#dcdcf4"]},"legend":{"title":null,"orient":"none","legendX":123,"legendY":20}}}},
  {"data":{"name":"s2"},"mark":{"type":"area","interpolate":"monotone","stroke":"#151515","strokeWidth":1,"fill":{"gradient":"linear","x1":0,"y1":1,"x2":1,"y2":-1,"stops":[{"offset":0,"color":"#6c6cc8"},{"offset":0.0045,"color":"#6c6cc8"},{"offset":0.0045,"color":"transparent"},{"offset":0.015,"color":"transparent"},{"offset":0.015,"color":"#6c6cc8"},{"offset":0.0195,"color":"#6c6cc8"},{"offset":0.0195,"color":"transparent"},{"offset":0.03,"color":"transparent"},{"offset":0.03,"color":"#6c6cc8"},{"offset":0.0345,"color":"#6c6cc8"},{"offset":0.0345,"color":"transparent"},{"offset":0.045,"color":"transparent"},{"offset":0.045,"color":"#6c6cc8"},{"offset":0.0495,"color":"#6c6cc8"},{"offset":0.0495,"color":"transparent"},{"offset":0.06,"color":"transparent"},{"offset":0.06,"color":"#6c6cc8"},{"offset":0.0645,"color":"#6c6cc8"},{"offset":0.0645,"color":"transparent"},{"offset":0.075,"color":"transparent"},{"offset":0.075,"color":"#6c6cc8"},{"offset":0.0795,"color":"#6c6cc8"},{"offset":0.0795,"color":"transparent"},{"offset":0.09,"color":"transparent"},{"offset":0.09,"color":"#6c6cc8"},{"offset":0.0945,"color":"#6c6cc8"},{"offset":0.0945,"color":"transparent"},{"offset":0.105,"color":"transparent"},{"offset":0.105,"color":"#6c6cc8"},{"offset":0.1095,"color":"#6c6cc8"},{"offset":0.1095,"color":"transparent"},{"offset":0.12,"color":"transparent"},{"offset":0.12,"color":"#6c6cc8"},{"offset":0.1245,"color":"#6c6cc8"},{"offset":0.1245,"color":"transparent"},{"offset":0.135,"color":"transparent"},{"offset":0.135,"color":"#6c6cc8"},{"offset":0.1395,"color":"#6c6cc8"},{"offset":0.1395,"color":"transparent"},{"offset":0.15,"color":"transparent"},{"offset":0.15,"color":"#6c6cc8"},{"offset":0.1545,"color":"#6c6cc8"},{"offset":0.1545,"color":"transparent"},{"offset":0.165,"color":"transparent"},{"offset":0.165,"color":"#6c6cc8"},{"offset":0.1695,"color":"#6c6cc8"},{"offset":0.1695,"color":"transparent"},{"offset":0.18,"color":"transparent"},{"offset":0.18,"color":"#6c6cc8"},{"offset":0.1845,"color":"#6c6cc8"},{"offset":0.1845,"color":"transparent"},{"offset":0.195,"color":"transparent"},{"offset":0.195,"color":"#6c6cc8"},{"offset":0.1995,"color":"#6c6cc8"},{"offset":0.1995,"color":"transparent"},{"offset":0.21,"color":"transparent"},{"offset":0.21,"color":"#6c6cc8"},{"offset":0.2145,"color":"#6c6cc8"},{"offset":0.2145,"color":"transparent"},{"offset":0.225,"color":"transparent"},{"offset":0.225,"color":"#6c6cc8"},{"offset":0.2295,"color":"#6c6cc8"},{"offset":0.2295,"color":"transparent"},{"offset":0.24,"color":"transparent"},{"offset":0.24,"color":"#6c6cc8"},{"offset":0.2445,"color":"#6c6cc8"},{"offset":0.2445,"color":"transparent"},{"offset":0.255,"color":"transparent"},{"offset":0.255,"color":"#6c6cc8"},{"offset":0.2595,"color":"#6c6cc8"},{"offset":0.2595,"color":"transparent"},{"offset":0.27,"color":"transparent"},{"offset":0.27,"color":"#6c6cc8"},{"offset":0.2745,"color":"#6c6cc8"},{"offset":0.2745,"color":"transparent"},{"offset":0.285,"color":"transparent"},{"offset":0.285,"color":"#6c6cc8"},{"offset":0.2895,"color":"#6c6cc8"},{"offset":0.2895,"color":"transparent"},{"offset":0.3,"color":"transparent"},{"offset":0.3,"color":"#6c6cc8"},{"offset":0.3045,"color":"#6c6cc8"},{"offset":0.3045,"color":"transparent"},{"offset":0.315,"color":"transparent"},{"offset":0.315,"color":"#6c6cc8"},{"offset":0.3195,"color":"#6c6cc8"},{"offset":0.3195,"color":"transparent"},{"offset":0.33,"color":"transparent"},{"offset":0.33,"color":"#6c6cc8"},{"offset":0.3345,"color":"#6c6cc8"},{"offset":0.3345,"color":"transparent"},{"offset":0.345,"color":"transparent"},{"offset":0.345,"color":"#6c6cc8"},{"offset":0.3495,"color":"#6c6cc8"},{"offset":0.3495,"color":"transparent"},{"offset":0.36,"color":"transparent"},{"offset":0.36,"color":"#6c6cc8"},{"offset":0.3645,"color":"#6c6cc8"},{"offset":0.3645,"color":"transparent"},{"offset":0.375,"color":"transparent"},{"offset":0.375,"color":"#6c6cc8"},{"offset":0.3795,"color":"#6c6cc8"},{"offset":0.3795,"color":"transparent"},{"offset":0.39,"color":"transparent"},{"offset":0.39,"color":"#6c6cc8"},{"offset":0.3945,"color":"#6c6cc8"},{"offset":0.3945,"color":"transparent"},{"offset":0.405,"color":"transparent"},{"offset":0.405,"color":"#6c6cc8"},{"offset":0.4095,"color":"#6c6cc8"},{"offset":0.4095,"color":"transparent"},{"offset":0.42,"color":"transparent"},{"offset":0.42,"color":"#6c6cc8"},{"offset":0.4245,"color":"#6c6cc8"},{"offset":0.4245,"color":"transparent"},{"offset":0.435,"color":"transparent"},{"offset":0.435,"color":"#6c6cc8"},{"offset":0.4395,"color":"#6c6cc8"},{"offset":0.4395,"color":"transparent"},{"offset":0.45,"color":"transparent"},{"offset":0.45,"color":"#6c6cc8"},{"offset":0.4545,"color":"#6c6cc8"},{"offset":0.4545,"color":"transparent"},{"offset":0.465,"color":"transparent"},{"offset":0.465,"color":"#6c6cc8"},{"offset":0.4695,"color":"#6c6cc8"},{"offset":0.4695,"color":"transparent"},{"offset":0.48,"color":"transparent"},{"offset":0.48,"color":"#6c6cc8"},{"offset":0.4845,"color":"#6c6cc8"},{"offset":0.4845,"color":"transparent"},{"offset":0.495,"color":"transparent"},{"offset":0.495,"color":"#6c6cc8"},{"offset":0.4995,"color":"#6c6cc8"},{"offset":0.4995,"color":"transparent"},{"offset":0.51,"color":"transparent"},{"offset":0.51,"color":"#6c6cc8"},{"offset":0.5145,"color":"#6c6cc8"},{"offset":0.5145,"color":"transparent"},{"offset":0.525,"color":"transparent"},{"offset":0.525,"color":"#6c6cc8"},{"offset":0.5295,"color":"#6c6cc8"},{"offset":0.5295,"color":"transparent"},{"offset":0.54,"color":"transparent"},{"offset":0.54,"color":"#6c6cc8"},{"offset":0.5445,"color":"#6c6cc8"},{"offset":0.5445,"color":"transparent"},{"offset":0.555,"color":"transparent"},{"offset":0.555,"color":"#6c6cc8"},{"offset":0.5595,"color":"#6c6cc8"},{"offset":0.5595,"color":"transparent"},{"offset":0.57,"color":"transparent"},{"offset":0.57,"color":"#6c6cc8"},{"offset":0.5745,"color":"#6c6cc8"},{"offset":0.5745,"color":"transparent"},{"offset":0.585,"color":"transparent"},{"offset":0.585,"color":"#6c6cc8"},{"offset":0.5895,"color":"#6c6cc8"},{"offset":0.5895,"color":"transparent"},{"offset":1,"color":"transparent"}]}},"encoding":{}},
  {"data":{"name":"f2"},"mark":{"type":"line","interpolate":"monotone","color":"#3a3a3a","strokeWidth":1.1},"encoding":{}},
  {"data":{"name":"r2"},"mark":{"type":"line","color":"#262626","strokeWidth":0.9},"encoding":{}},
  {"data":{"name":"t2"},"mark":{"type":"point","shape":"triangle-up","filled":true,"size":28,"color":"#000","opacity":1,"yOffset":4},"encoding":{}}
 ]},
{"width":218,"height":192,
 "encoding":{
  "x":{"field":"x","type":"quantitative","scale":{"domain":[0,242],"nice":false,"zero":false},"axis":{"title":"Channels(FL2-A)","values":[0,10,20,30,40,50,60,70,80,90,100,110,120,130,140,150,160,170,180,190,200,210,220,230,240],"labelExpr":"datum.value % 50 === 0 ? datum.label : ''","tickSize":{"condition":{"test":"datum.value % 50 === 0","value":5},"value":3},"labelPadding":3,"titlePadding":3,"titleFontSize":13}},
  "y":{"field":"y","type":"quantitative","stack":null,"scale":{"domain":[0,174],"nice":false},"axis":{"title":"Number","values":[0,10,20,30,40,50,60,70,80,90,100,110,120,130,140,150,160,170],"labelExpr":"datum.value % 40 === 0 ? datum.label : ''","tickSize":{"condition":{"test":"datum.value % 40 === 0","value":5},"value":3},"labelAngle":270,"labelAlign":"center","labelBaseline":"bottom","labelPadding":2,"titlePadding":2}}},
 "layer":[
  {"data":{"name":"c3"},"mark":{"type":"area","interpolate":"monotone","stroke":"#2a1414","strokeWidth":0.8,"fillOpacity":1},"encoding":{"fill":{"field":"c","type":"nominal","scale":{"domain":["Debris","Aggregates","Dip G1","Dip G2","Dip S"],"range":["#c4c4ee","#c6f2c2","#e8241a","#e8241a","#dcdcf4"]},"legend":{"title":null,"orient":"none","legendX":132,"legendY":22}}}},
  {"data":{"name":"s3"},"mark":{"type":"area","interpolate":"monotone","stroke":"#151515","strokeWidth":1,"fill":{"gradient":"linear","x1":0,"y1":1,"x2":1,"y2":-1,"stops":[{"offset":0,"color":"#6c6cc8"},{"offset":0.0045,"color":"#6c6cc8"},{"offset":0.0045,"color":"transparent"},{"offset":0.015,"color":"transparent"},{"offset":0.015,"color":"#6c6cc8"},{"offset":0.0195,"color":"#6c6cc8"},{"offset":0.0195,"color":"transparent"},{"offset":0.03,"color":"transparent"},{"offset":0.03,"color":"#6c6cc8"},{"offset":0.0345,"color":"#6c6cc8"},{"offset":0.0345,"color":"transparent"},{"offset":0.045,"color":"transparent"},{"offset":0.045,"color":"#6c6cc8"},{"offset":0.0495,"color":"#6c6cc8"},{"offset":0.0495,"color":"transparent"},{"offset":0.06,"color":"transparent"},{"offset":0.06,"color":"#6c6cc8"},{"offset":0.0645,"color":"#6c6cc8"},{"offset":0.0645,"color":"transparent"},{"offset":0.075,"color":"transparent"},{"offset":0.075,"color":"#6c6cc8"},{"offset":0.0795,"color":"#6c6cc8"},{"offset":0.0795,"color":"transparent"},{"offset":0.09,"color":"transparent"},{"offset":0.09,"color":"#6c6cc8"},{"offset":0.0945,"color":"#6c6cc8"},{"offset":0.0945,"color":"transparent"},{"offset":0.105,"color":"transparent"},{"offset":0.105,"color":"#6c6cc8"},{"offset":0.1095,"color":"#6c6cc8"},{"offset":0.1095,"color":"transparent"},{"offset":0.12,"color":"transparent"},{"offset":0.12,"color":"#6c6cc8"},{"offset":0.1245,"color":"#6c6cc8"},{"offset":0.1245,"color":"transparent"},{"offset":0.135,"color":"transparent"},{"offset":0.135,"color":"#6c6cc8"},{"offset":0.1395,"color":"#6c6cc8"},{"offset":0.1395,"color":"transparent"},{"offset":0.15,"color":"transparent"},{"offset":0.15,"color":"#6c6cc8"},{"offset":0.1545,"color":"#6c6cc8"},{"offset":0.1545,"color":"transparent"},{"offset":0.165,"color":"transparent"},{"offset":0.165,"color":"#6c6cc8"},{"offset":0.1695,"color":"#6c6cc8"},{"offset":0.1695,"color":"transparent"},{"offset":0.18,"color":"transparent"},{"offset":0.18,"color":"#6c6cc8"},{"offset":0.1845,"color":"#6c6cc8"},{"offset":0.1845,"color":"transparent"},{"offset":0.195,"color":"transparent"},{"offset":0.195,"color":"#6c6cc8"},{"offset":0.1995,"color":"#6c6cc8"},{"offset":0.1995,"color":"transparent"},{"offset":0.21,"color":"transparent"},{"offset":0.21,"color":"#6c6cc8"},{"offset":0.2145,"color":"#6c6cc8"},{"offset":0.2145,"color":"transparent"},{"offset":0.225,"color":"transparent"},{"offset":0.225,"color":"#6c6cc8"},{"offset":0.2295,"color":"#6c6cc8"},{"offset":0.2295,"color":"transparent"},{"offset":0.24,"color":"transparent"},{"offset":0.24,"color":"#6c6cc8"},{"offset":0.2445,"color":"#6c6cc8"},{"offset":0.2445,"color":"transparent"},{"offset":0.255,"color":"transparent"},{"offset":0.255,"color":"#6c6cc8"},{"offset":0.2595,"color":"#6c6cc8"},{"offset":0.2595,"color":"transparent"},{"offset":0.27,"color":"transparent"},{"offset":0.27,"color":"#6c6cc8"},{"offset":0.2745,"color":"#6c6cc8"},{"offset":0.2745,"color":"transparent"},{"offset":0.285,"color":"transparent"},{"offset":0.285,"color":"#6c6cc8"},{"offset":0.2895,"color":"#6c6cc8"},{"offset":0.2895,"color":"transparent"},{"offset":0.3,"color":"transparent"},{"offset":0.3,"color":"#6c6cc8"},{"offset":0.3045,"color":"#6c6cc8"},{"offset":0.3045,"color":"transparent"},{"offset":0.315,"color":"transparent"},{"offset":0.315,"color":"#6c6cc8"},{"offset":0.3195,"color":"#6c6cc8"},{"offset":0.3195,"color":"transparent"},{"offset":0.33,"color":"transparent"},{"offset":0.33,"color":"#6c6cc8"},{"offset":0.3345,"color":"#6c6cc8"},{"offset":0.3345,"color":"transparent"},{"offset":0.345,"color":"transparent"},{"offset":0.345,"color":"#6c6cc8"},{"offset":0.3495,"color":"#6c6cc8"},{"offset":0.3495,"color":"transparent"},{"offset":0.36,"color":"transparent"},{"offset":0.36,"color":"#6c6cc8"},{"offset":0.3645,"color":"#6c6cc8"},{"offset":0.3645,"color":"transparent"},{"offset":0.375,"color":"transparent"},{"offset":0.375,"color":"#6c6cc8"},{"offset":0.3795,"color":"#6c6cc8"},{"offset":0.3795,"color":"transparent"},{"offset":0.39,"color":"transparent"},{"offset":0.39,"color":"#6c6cc8"},{"offset":0.3945,"color":"#6c6cc8"},{"offset":0.3945,"color":"transparent"},{"offset":0.405,"color":"transparent"},{"offset":0.405,"color":"#6c6cc8"},{"offset":0.4095,"color":"#6c6cc8"},{"offset":0.4095,"color":"transparent"},{"offset":0.42,"color":"transparent"},{"offset":0.42,"color":"#6c6cc8"},{"offset":0.4245,"color":"#6c6cc8"},{"offset":0.4245,"color":"transparent"},{"offset":0.435,"color":"transparent"},{"offset":0.435,"color":"#6c6cc8"},{"offset":0.4395,"color":"#6c6cc8"},{"offset":0.4395,"color":"transparent"},{"offset":0.45,"color":"transparent"},{"offset":0.45,"color":"#6c6cc8"},{"offset":0.4545,"color":"#6c6cc8"},{"offset":0.4545,"color":"transparent"},{"offset":0.465,"color":"transparent"},{"offset":0.465,"color":"#6c6cc8"},{"offset":0.4695,"color":"#6c6cc8"},{"offset":0.4695,"color":"transparent"},{"offset":0.48,"color":"transparent"},{"offset":0.48,"color":"#6c6cc8"},{"offset":0.4845,"color":"#6c6cc8"},{"offset":0.4845,"color":"transparent"},{"offset":0.495,"color":"transparent"},{"offset":0.495,"color":"#6c6cc8"},{"offset":0.4995,"color":"#6c6cc8"},{"offset":0.4995,"color":"transparent"},{"offset":0.51,"color":"transparent"},{"offset":0.51,"color":"#6c6cc8"},{"offset":0.5145,"color":"#6c6cc8"},{"offset":0.5145,"color":"transparent"},{"offset":0.525,"color":"transparent"},{"offset":0.525,"color":"#6c6cc8"},{"offset":0.5295,"color":"#6c6cc8"},{"offset":0.5295,"color":"transparent"},{"offset":0.54,"color":"transparent"},{"offset":0.54,"color":"#6c6cc8"},{"offset":0.5445,"color":"#6c6cc8"},{"offset":0.5445,"color":"transparent"},{"offset":0.555,"color":"transparent"},{"offset":0.555,"color":"#6c6cc8"},{"offset":0.5595,"color":"#6c6cc8"},{"offset":0.5595,"color":"transparent"},{"offset":0.57,"color":"transparent"},{"offset":0.57,"color":"#6c6cc8"},{"offset":0.5745,"color":"#6c6cc8"},{"offset":0.5745,"color":"transparent"},{"offset":0.585,"color":"transparent"},{"offset":0.585,"color":"#6c6cc8"},{"offset":0.5895,"color":"#6c6cc8"},{"offset":0.5895,"color":"transparent"},{"offset":1,"color":"transparent"}]}},"encoding":{}},
  {"data":{"name":"f3"},"mark":{"type":"line","interpolate":"monotone","color":"#3a3a3a","strokeWidth":1.1},"encoding":{}},
  {"data":{"name":"r3"},"mark":{"type":"line","color":"#262626","strokeWidth":0.9},"encoding":{}}
 ]},
{"width":218,"height":192,
 "encoding":{
  "x":{"field":"x","type":"quantitative","scale":{"domain":[0,242],"nice":false,"zero":false},"axis":{"title":"Channels(FL2-A)","values":[0,10,20,30,40,50,60,70,80,90,100,110,120,130,140,150,160,170,180,190,200,210,220,230,240],"labelExpr":"datum.value % 50 === 0 ? datum.label : ''","tickSize":{"condition":{"test":"datum.value % 50 === 0","value":5},"value":3},"labelPadding":3,"titlePadding":3,"titleFontSize":13}},
  "y":{"field":"y","type":"quantitative","stack":null,"scale":{"domain":[0,150],"nice":false},"axis":{"title":"Number","values":[0,10,20,30,40,50,60,70,80,90,100,110,120,130,140,150],"labelExpr":"datum.value % 30 === 0 ? datum.label : ''","tickSize":{"condition":{"test":"datum.value % 30 === 0","value":5},"value":3},"labelAngle":270,"labelAlign":"center","labelBaseline":"bottom","labelPadding":2,"titlePadding":2}}},
 "layer":[
  {"data":{"name":"c4"},"mark":{"type":"area","interpolate":"monotone","stroke":"#2a1414","strokeWidth":0.8,"fillOpacity":1},"encoding":{"fill":{"field":"c","type":"nominal","scale":{"domain":["Debris","Aggregates","Dip G1","Dip G2","Dip S"],"range":["#c4c4ee","#c6f2c2","#e8241a","#e8241a","#dcdcf4"]},"legend":{"title":null,"orient":"none","legendX":145,"legendY":29}}}},
  {"data":{"name":"s4"},"mark":{"type":"area","interpolate":"monotone","stroke":"#151515","strokeWidth":1,"fill":{"gradient":"linear","x1":0,"y1":1,"x2":1,"y2":-1,"stops":[{"offset":0,"color":"#6c6cc8"},{"offset":0.0045,"color":"#6c6cc8"},{"offset":0.0045,"color":"transparent"},{"offset":0.015,"color":"transparent"},{"offset":0.015,"color":"#6c6cc8"},{"offset":0.0195,"color":"#6c6cc8"},{"offset":0.0195,"color":"transparent"},{"offset":0.03,"color":"transparent"},{"offset":0.03,"color":"#6c6cc8"},{"offset":0.0345,"color":"#6c6cc8"},{"offset":0.0345,"color":"transparent"},{"offset":0.045,"color":"transparent"},{"offset":0.045,"color":"#6c6cc8"},{"offset":0.0495,"color":"#6c6cc8"},{"offset":0.0495,"color":"transparent"},{"offset":0.06,"color":"transparent"},{"offset":0.06,"color":"#6c6cc8"},{"offset":0.0645,"color":"#6c6cc8"},{"offset":0.0645,"color":"transparent"},{"offset":0.075,"color":"transparent"},{"offset":0.075,"color":"#6c6cc8"},{"offset":0.0795,"color":"#6c6cc8"},{"offset":0.0795,"color":"transparent"},{"offset":0.09,"color":"transparent"},{"offset":0.09,"color":"#6c6cc8"},{"offset":0.0945,"color":"#6c6cc8"},{"offset":0.0945,"color":"transparent"},{"offset":0.105,"color":"transparent"},{"offset":0.105,"color":"#6c6cc8"},{"offset":0.1095,"color":"#6c6cc8"},{"offset":0.1095,"color":"transparent"},{"offset":0.12,"color":"transparent"},{"offset":0.12,"color":"#6c6cc8"},{"offset":0.1245,"color":"#6c6cc8"},{"offset":0.1245,"color":"transparent"},{"offset":0.135,"color":"transparent"},{"offset":0.135,"color":"#6c6cc8"},{"offset":0.1395,"color":"#6c6cc8"},{"offset":0.1395,"color":"transparent"},{"offset":0.15,"color":"transparent"},{"offset":0.15,"color":"#6c6cc8"},{"offset":0.1545,"color":"#6c6cc8"},{"offset":0.1545,"color":"transparent"},{"offset":0.165,"color":"transparent"},{"offset":0.165,"color":"#6c6cc8"},{"offset":0.1695,"color":"#6c6cc8"},{"offset":0.1695,"color":"transparent"},{"offset":0.18,"color":"transparent"},{"offset":0.18,"color":"#6c6cc8"},{"offset":0.1845,"color":"#6c6cc8"},{"offset":0.1845,"color":"transparent"},{"offset":0.195,"color":"transparent"},{"offset":0.195,"color":"#6c6cc8"},{"offset":0.1995,"color":"#6c6cc8"},{"offset":0.1995,"color":"transparent"},{"offset":0.21,"color":"transparent"},{"offset":0.21,"color":"#6c6cc8"},{"offset":0.2145,"color":"#6c6cc8"},{"offset":0.2145,"color":"transparent"},{"offset":0.225,"color":"transparent"},{"offset":0.225,"color":"#6c6cc8"},{"offset":0.2295,"color":"#6c6cc8"},{"offset":0.2295,"color":"transparent"},{"offset":0.24,"color":"transparent"},{"offset":0.24,"color":"#6c6cc8"},{"offset":0.2445,"color":"#6c6cc8"},{"offset":0.2445,"color":"transparent"},{"offset":0.255,"color":"transparent"},{"offset":0.255,"color":"#6c6cc8"},{"offset":0.2595,"color":"#6c6cc8"},{"offset":0.2595,"color":"transparent"},{"offset":0.27,"color":"transparent"},{"offset":0.27,"color":"#6c6cc8"},{"offset":0.2745,"color":"#6c6cc8"},{"offset":0.2745,"color":"transparent"},{"offset":0.285,"color":"transparent"},{"offset":0.285,"color":"#6c6cc8"},{"offset":0.2895,"color":"#6c6cc8"},{"offset":0.2895,"color":"transparent"},{"offset":0.3,"color":"transparent"},{"offset":0.3,"color":"#6c6cc8"},{"offset":0.3045,"color":"#6c6cc8"},{"offset":0.3045,"color":"transparent"},{"offset":0.315,"color":"transparent"},{"offset":0.315,"color":"#6c6cc8"},{"offset":0.3195,"color":"#6c6cc8"},{"offset":0.3195,"color":"transparent"},{"offset":0.33,"color":"transparent"},{"offset":0.33,"color":"#6c6cc8"},{"offset":0.3345,"color":"#6c6cc8"},{"offset":0.3345,"color":"transparent"},{"offset":0.345,"color":"transparent"},{"offset":0.345,"color":"#6c6cc8"},{"offset":0.3495,"color":"#6c6cc8"},{"offset":0.3495,"color":"transparent"},{"offset":0.36,"color":"transparent"},{"offset":0.36,"color":"#6c6cc8"},{"offset":0.3645,"color":"#6c6cc8"},{"offset":0.3645,"color":"transparent"},{"offset":0.375,"color":"transparent"},{"offset":0.375,"color":"#6c6cc8"},{"offset":0.3795,"color":"#6c6cc8"},{"offset":0.3795,"color":"transparent"},{"offset":0.39,"color":"transparent"},{"offset":0.39,"color":"#6c6cc8"},{"offset":0.3945,"color":"#6c6cc8"},{"offset":0.3945,"color":"transparent"},{"offset":0.405,"color":"transparent"},{"offset":0.405,"color":"#6c6cc8"},{"offset":0.4095,"color":"#6c6cc8"},{"offset":0.4095,"color":"transparent"},{"offset":0.42,"color":"transparent"},{"offset":0.42,"color":"#6c6cc8"},{"offset":0.4245,"color":"#6c6cc8"},{"offset":0.4245,"color":"transparent"},{"offset":0.435,"color":"transparent"},{"offset":0.435,"color":"#6c6cc8"},{"offset":0.4395,"color":"#6c6cc8"},{"offset":0.4395,"color":"transparent"},{"offset":0.45,"color":"transparent"},{"offset":0.45,"color":"#6c6cc8"},{"offset":0.4545,"color":"#6c6cc8"},{"offset":0.4545,"color":"transparent"},{"offset":0.465,"color":"transparent"},{"offset":0.465,"color":"#6c6cc8"},{"offset":0.4695,"color":"#6c6cc8"},{"offset":0.4695,"color":"transparent"},{"offset":0.48,"color":"transparent"},{"offset":0.48,"color":"#6c6cc8"},{"offset":0.4845,"color":"#6c6cc8"},{"offset":0.4845,"color":"transparent"},{"offset":0.495,"color":"transparent"},{"offset":0.495,"color":"#6c6cc8"},{"offset":0.4995,"color":"#6c6cc8"},{"offset":0.4995,"color":"transparent"},{"offset":0.51,"color":"transparent"},{"offset":0.51,"color":"#6c6cc8"},{"offset":0.5145,"color":"#6c6cc8"},{"offset":0.5145,"color":"transparent"},{"offset":0.525,"color":"transparent"},{"offset":0.525,"color":"#6c6cc8"},{"offset":0.5295,"color":"#6c6cc8"},{"offset":0.5295,"color":"transparent"},{"offset":0.54,"color":"transparent"},{"offset":0.54,"color":"#6c6cc8"},{"offset":0.5445,"color":"#6c6cc8"},{"offset":0.5445,"color":"transparent"},{"offset":0.555,"color":"transparent"},{"offset":0.555,"color":"#6c6cc8"},{"offset":0.5595,"color":"#6c6cc8"},{"offset":0.5595,"color":"transparent"},{"offset":0.57,"color":"transparent"},{"offset":0.57,"color":"#6c6cc8"},{"offset":0.5745,"color":"#6c6cc8"},{"offset":0.5745,"color":"transparent"},{"offset":0.585,"color":"transparent"},{"offset":0.585,"color":"#6c6cc8"},{"offset":0.5895,"color":"#6c6cc8"},{"offset":0.5895,"color":"transparent"},{"offset":1,"color":"transparent"}]}},"encoding":{}},
  {"data":{"name":"f4"},"mark":{"type":"line","interpolate":"monotone","color":"#3a3a3a","strokeWidth":1.1},"encoding":{}},
  {"data":{"name":"r4"},"mark":{"type":"line","color":"#262626","strokeWidth":0.9},"encoding":{}},
  {"data":{"name":"t4"},"mark":{"type":"point","shape":"triangle-up","filled":true,"size":28,"color":"#000","opacity":1,"yOffset":4},"encoding":{}}
 ]},
{"width":218,"height":192,
 "encoding":{
  "x":{"field":"x","type":"quantitative","scale":{"domain":[0,242],"nice":false,"zero":false},"axis":{"title":"Channels(FL2-A)","values":[0,10,20,30,40,50,60,70,80,90,100,110,120,130,140,150,160,170,180,190,200,210,220,230,240],"labelExpr":"datum.value % 50 === 0 ? datum.label : ''","tickSize":{"condition":{"test":"datum.value % 50 === 0","value":5},"value":3},"labelPadding":3,"titlePadding":3,"titleFontSize":13}},
  "y":{"field":"y","type":"quantitative","stack":null,"scale":{"domain":[0,170],"nice":false},"axis":{"title":"Number","values":[0,10,20,30,40,50,60,70,80,90,100,110,120,130,140,150,160,170],"labelExpr":"datum.value % 40 === 0 ? datum.label : ''","tickSize":{"condition":{"test":"datum.value % 40 === 0","value":5},"value":3},"labelAngle":270,"labelAlign":"center","labelBaseline":"bottom","labelPadding":2,"titlePadding":2}}},
 "layer":[
  {"data":{"name":"c5"},"mark":{"type":"area","interpolate":"monotone","stroke":"#2a1414","strokeWidth":0.8,"fillOpacity":1},"encoding":{"fill":{"field":"c","type":"nominal","scale":{"domain":["Debris","Aggregates","Dip G1","Dip G2","Dip S"],"range":["#c4c4ee","#c6f2c2","#e8241a","#e8241a","#dcdcf4"]},"legend":{"title":null,"orient":"none","legendX":145,"legendY":33}}}},
  {"data":{"name":"s5"},"mark":{"type":"area","interpolate":"monotone","stroke":"#151515","strokeWidth":1,"fill":{"gradient":"linear","x1":0,"y1":1,"x2":1,"y2":-1,"stops":[{"offset":0,"color":"#6c6cc8"},{"offset":0.0045,"color":"#6c6cc8"},{"offset":0.0045,"color":"transparent"},{"offset":0.015,"color":"transparent"},{"offset":0.015,"color":"#6c6cc8"},{"offset":0.0195,"color":"#6c6cc8"},{"offset":0.0195,"color":"transparent"},{"offset":0.03,"color":"transparent"},{"offset":0.03,"color":"#6c6cc8"},{"offset":0.0345,"color":"#6c6cc8"},{"offset":0.0345,"color":"transparent"},{"offset":0.045,"color":"transparent"},{"offset":0.045,"color":"#6c6cc8"},{"offset":0.0495,"color":"#6c6cc8"},{"offset":0.0495,"color":"transparent"},{"offset":0.06,"color":"transparent"},{"offset":0.06,"color":"#6c6cc8"},{"offset":0.0645,"color":"#6c6cc8"},{"offset":0.0645,"color":"transparent"},{"offset":0.075,"color":"transparent"},{"offset":0.075,"color":"#6c6cc8"},{"offset":0.0795,"color":"#6c6cc8"},{"offset":0.0795,"color":"transparent"},{"offset":0.09,"color":"transparent"},{"offset":0.09,"color":"#6c6cc8"},{"offset":0.0945,"color":"#6c6cc8"},{"offset":0.0945,"color":"transparent"},{"offset":0.105,"color":"transparent"},{"offset":0.105,"color":"#6c6cc8"},{"offset":0.1095,"color":"#6c6cc8"},{"offset":0.1095,"color":"transparent"},{"offset":0.12,"color":"transparent"},{"offset":0.12,"color":"#6c6cc8"},{"offset":0.1245,"color":"#6c6cc8"},{"offset":0.1245,"color":"transparent"},{"offset":0.135,"color":"transparent"},{"offset":0.135,"color":"#6c6cc8"},{"offset":0.1395,"color":"#6c6cc8"},{"offset":0.1395,"color":"transparent"},{"offset":0.15,"color":"transparent"},{"offset":0.15,"color":"#6c6cc8"},{"offset":0.1545,"color":"#6c6cc8"},{"offset":0.1545,"color":"transparent"},{"offset":0.165,"color":"transparent"},{"offset":0.165,"color":"#6c6cc8"},{"offset":0.1695,"color":"#6c6cc8"},{"offset":0.1695,"color":"transparent"},{"offset":0.18,"color":"transparent"},{"offset":0.18,"color":"#6c6cc8"},{"offset":0.1845,"color":"#6c6cc8"},{"offset":0.1845,"color":"transparent"},{"offset":0.195,"color":"transparent"},{"offset":0.195,"color":"#6c6cc8"},{"offset":0.1995,"color":"#6c6cc8"},{"offset":0.1995,"color":"transparent"},{"offset":0.21,"color":"transparent"},{"offset":0.21,"color":"#6c6cc8"},{"offset":0.2145,"color":"#6c6cc8"},{"offset":0.2145,"color":"transparent"},{"offset":0.225,"color":"transparent"},{"offset":0.225,"color":"#6c6cc8"},{"offset":0.2295,"color":"#6c6cc8"},{"offset":0.2295,"color":"transparent"},{"offset":0.24,"color":"transparent"},{"offset":0.24,"color":"#6c6cc8"},{"offset":0.2445,"color":"#6c6cc8"},{"offset":0.2445,"color":"transparent"},{"offset":0.255,"color":"transparent"},{"offset":0.255,"color":"#6c6cc8"},{"offset":0.2595,"color":"#6c6cc8"},{"offset":0.2595,"color":"transparent"},{"offset":0.27,"color":"transparent"},{"offset":0.27,"color":"#6c6cc8"},{"offset":0.2745,"color":"#6c6cc8"},{"offset":0.2745,"color":"transparent"},{"offset":0.285,"color":"transparent"},{"offset":0.285,"color":"#6c6cc8"},{"offset":0.2895,"color":"#6c6cc8"},{"offset":0.2895,"color":"transparent"},{"offset":0.3,"color":"transparent"},{"offset":0.3,"color":"#6c6cc8"},{"offset":0.3045,"color":"#6c6cc8"},{"offset":0.3045,"color":"transparent"},{"offset":0.315,"color":"transparent"},{"offset":0.315,"color":"#6c6cc8"},{"offset":0.3195,"color":"#6c6cc8"},{"offset":0.3195,"color":"transparent"},{"offset":0.33,"color":"transparent"},{"offset":0.33,"color":"#6c6cc8"},{"offset":0.3345,"color":"#6c6cc8"},{"offset":0.3345,"color":"transparent"},{"offset":0.345,"color":"transparent"},{"offset":0.345,"color":"#6c6cc8"},{"offset":0.3495,"color":"#6c6cc8"},{"offset":0.3495,"color":"transparent"},{"offset":0.36,"color":"transparent"},{"offset":0.36,"color":"#6c6cc8"},{"offset":0.3645,"color":"#6c6cc8"},{"offset":0.3645,"color":"transparent"},{"offset":0.375,"color":"transparent"},{"offset":0.375,"color":"#6c6cc8"},{"offset":0.3795,"color":"#6c6cc8"},{"offset":0.3795,"color":"transparent"},{"offset":0.39,"color":"transparent"},{"offset":0.39,"color":"#6c6cc8"},{"offset":0.3945,"color":"#6c6cc8"},{"offset":0.3945,"color":"transparent"},{"offset":0.405,"color":"transparent"},{"offset":0.405,"color":"#6c6cc8"},{"offset":0.4095,"color":"#6c6cc8"},{"offset":0.4095,"color":"transparent"},{"offset":0.42,"color":"transparent"},{"offset":0.42,"color":"#6c6cc8"},{"offset":0.4245,"color":"#6c6cc8"},{"offset":0.4245,"color":"transparent"},{"offset":0.435,"color":"transparent"},{"offset":0.435,"color":"#6c6cc8"},{"offset":0.4395,"color":"#6c6cc8"},{"offset":0.4395,"color":"transparent"},{"offset":0.45,"color":"transparent"},{"offset":0.45,"color":"#6c6cc8"},{"offset":0.4545,"color":"#6c6cc8"},{"offset":0.4545,"color":"transparent"},{"offset":0.465,"color":"transparent"},{"offset":0.465,"color":"#6c6cc8"},{"offset":0.4695,"color":"#6c6cc8"},{"offset":0.4695,"color":"transparent"},{"offset":0.48,"color":"transparent"},{"offset":0.48,"color":"#6c6cc8"},{"offset":0.4845,"color":"#6c6cc8"},{"offset":0.4845,"color":"transparent"},{"offset":0.495,"color":"transparent"},{"offset":0.495,"color":"#6c6cc8"},{"offset":0.4995,"color":"#6c6cc8"},{"offset":0.4995,"color":"transparent"},{"offset":0.51,"color":"transparent"},{"offset":0.51,"color":"#6c6cc8"},{"offset":0.5145,"color":"#6c6cc8"},{"offset":0.5145,"color":"transparent"},{"offset":0.525,"color":"transparent"},{"offset":0.525,"color":"#6c6cc8"},{"offset":0.5295,"color":"#6c6cc8"},{"offset":0.5295,"color":"transparent"},{"offset":0.54,"color":"transparent"},{"offset":0.54,"color":"#6c6cc8"},{"offset":0.5445,"color":"#6c6cc8"},{"offset":0.5445,"color":"transparent"},{"offset":0.555,"color":"transparent"},{"offset":0.555,"color":"#6c6cc8"},{"offset":0.5595,"color":"#6c6cc8"},{"offset":0.5595,"color":"transparent"},{"offset":0.57,"color":"transparent"},{"offset":0.57,"color":"#6c6cc8"},{"offset":0.5745,"color":"#6c6cc8"},{"offset":0.5745,"color":"transparent"},{"offset":0.585,"color":"transparent"},{"offset":0.585,"color":"#6c6cc8"},{"offset":0.5895,"color":"#6c6cc8"},{"offset":0.5895,"color":"transparent"},{"offset":1,"color":"transparent"}]}},"encoding":{}},
  {"data":{"name":"f5"},"mark":{"type":"line","interpolate":"monotone","color":"#3a3a3a","strokeWidth":1.1},"encoding":{}},
  {"data":{"name":"r5"},"mark":{"type":"line","color":"#262626","strokeWidth":0.9},"encoding":{}},
  {"data":{"name":"t5"},"mark":{"type":"point","shape":"triangle-up","filled":true,"size":28,"color":"#000","opacity":1,"yOffset":4},"encoding":{}}
 ]},
{"width":218,"height":192,
 "encoding":{
  "x":{"field":"x","type":"quantitative","scale":{"domain":[0,242],"nice":false,"zero":false},"axis":{"title":"Channels(FL2-A)","values":[0,10,20,30,40,50,60,70,80,90,100,110,120,130,140,150,160,170,180,190,200,210,220,230,240],"labelExpr":"datum.value % 50 === 0 ? datum.label : ''","tickSize":{"condition":{"test":"datum.value % 50 === 0","value":5},"value":3},"labelPadding":3,"titlePadding":3,"titleFontSize":13}},
  "y":{"field":"y","type":"quantitative","stack":null,"scale":{"domain":[0,119],"nice":false},"axis":{"title":"Number","values":[0,5,10,15,20,25,30,35,40,45,50,55,60,65,70,75,80,85,90,95,100,105,110,115],"labelExpr":"datum.value % 20 === 0 ? datum.label : ''","tickSize":{"condition":{"test":"datum.value % 20 === 0","value":5},"value":3},"labelAngle":270,"labelAlign":"center","labelBaseline":"bottom","labelPadding":2,"titlePadding":2}}},
 "layer":[
  {"data":{"name":"c6"},"mark":{"type":"area","interpolate":"monotone","stroke":"#2a1414","strokeWidth":0.8,"fillOpacity":1},"encoding":{"fill":{"field":"c","type":"nominal","scale":{"domain":["Debris","Aggregates","Dip G1","Dip G2","Dip S"],"range":["#c4c4ee","#c6f2c2","#e8241a","#e8241a","#dcdcf4"]},"legend":{"title":null,"orient":"none","legendX":145,"legendY":37}}}},
  {"data":{"name":"s6"},"mark":{"type":"area","interpolate":"monotone","stroke":"#151515","strokeWidth":1,"fill":{"gradient":"linear","x1":0,"y1":1,"x2":1,"y2":-1,"stops":[{"offset":0,"color":"#6c6cc8"},{"offset":0.0045,"color":"#6c6cc8"},{"offset":0.0045,"color":"transparent"},{"offset":0.015,"color":"transparent"},{"offset":0.015,"color":"#6c6cc8"},{"offset":0.0195,"color":"#6c6cc8"},{"offset":0.0195,"color":"transparent"},{"offset":0.03,"color":"transparent"},{"offset":0.03,"color":"#6c6cc8"},{"offset":0.0345,"color":"#6c6cc8"},{"offset":0.0345,"color":"transparent"},{"offset":0.045,"color":"transparent"},{"offset":0.045,"color":"#6c6cc8"},{"offset":0.0495,"color":"#6c6cc8"},{"offset":0.0495,"color":"transparent"},{"offset":0.06,"color":"transparent"},{"offset":0.06,"color":"#6c6cc8"},{"offset":0.0645,"color":"#6c6cc8"},{"offset":0.0645,"color":"transparent"},{"offset":0.075,"color":"transparent"},{"offset":0.075,"color":"#6c6cc8"},{"offset":0.0795,"color":"#6c6cc8"},{"offset":0.0795,"color":"transparent"},{"offset":0.09,"color":"transparent"},{"offset":0.09,"color":"#6c6cc8"},{"offset":0.0945,"color":"#6c6cc8"},{"offset":0.0945,"color":"transparent"},{"offset":0.105,"color":"transparent"},{"offset":0.105,"color":"#6c6cc8"},{"offset":0.1095,"color":"#6c6cc8"},{"offset":0.1095,"color":"transparent"},{"offset":0.12,"color":"transparent"},{"offset":0.12,"color":"#6c6cc8"},{"offset":0.1245,"color":"#6c6cc8"},{"offset":0.1245,"color":"transparent"},{"offset":0.135,"color":"transparent"},{"offset":0.135,"color":"#6c6cc8"},{"offset":0.1395,"color":"#6c6cc8"},{"offset":0.1395,"color":"transparent"},{"offset":0.15,"color":"transparent"},{"offset":0.15,"color":"#6c6cc8"},{"offset":0.1545,"color":"#6c6cc8"},{"offset":0.1545,"color":"transparent"},{"offset":0.165,"color":"transparent"},{"offset":0.165,"color":"#6c6cc8"},{"offset":0.1695,"color":"#6c6cc8"},{"offset":0.1695,"color":"transparent"},{"offset":0.18,"color":"transparent"},{"offset":0.18,"color":"#6c6cc8"},{"offset":0.1845,"color":"#6c6cc8"},{"offset":0.1845,"color":"transparent"},{"offset":0.195,"color":"transparent"},{"offset":0.195,"color":"#6c6cc8"},{"offset":0.1995,"color":"#6c6cc8"},{"offset":0.1995,"color":"transparent"},{"offset":0.21,"color":"transparent"},{"offset":0.21,"color":"#6c6cc8"},{"offset":0.2145,"color":"#6c6cc8"},{"offset":0.2145,"color":"transparent"},{"offset":0.225,"color":"transparent"},{"offset":0.225,"color":"#6c6cc8"},{"offset":0.2295,"color":"#6c6cc8"},{"offset":0.2295,"color":"transparent"},{"offset":0.24,"color":"transparent"},{"offset":0.24,"color":"#6c6cc8"},{"offset":0.2445,"color":"#6c6cc8"},{"offset":0.2445,"color":"transparent"},{"offset":0.255,"color":"transparent"},{"offset":0.255,"color":"#6c6cc8"},{"offset":0.2595,"color":"#6c6cc8"},{"offset":0.2595,"color":"transparent"},{"offset":0.27,"color":"transparent"},{"offset":0.27,"color":"#6c6cc8"},{"offset":0.2745,"color":"#6c6cc8"},{"offset":0.2745,"color":"transparent"},{"offset":0.285,"color":"transparent"},{"offset":0.285,"color":"#6c6cc8"},{"offset":0.2895,"color":"#6c6cc8"},{"offset":0.2895,"color":"transparent"},{"offset":0.3,"color":"transparent"},{"offset":0.3,"color":"#6c6cc8"},{"offset":0.3045,"color":"#6c6cc8"},{"offset":0.3045,"color":"transparent"},{"offset":0.315,"color":"transparent"},{"offset":0.315,"color":"#6c6cc8"},{"offset":0.3195,"color":"#6c6cc8"},{"offset":0.3195,"color":"transparent"},{"offset":0.33,"color":"transparent"},{"offset":0.33,"color":"#6c6cc8"},{"offset":0.3345,"color":"#6c6cc8"},{"offset":0.3345,"color":"transparent"},{"offset":0.345,"color":"transparent"},{"offset":0.345,"color":"#6c6cc8"},{"offset":0.3495,"color":"#6c6cc8"},{"offset":0.3495,"color":"transparent"},{"offset":0.36,"color":"transparent"},{"offset":0.36,"color":"#6c6cc8"},{"offset":0.3645,"color":"#6c6cc8"},{"offset":0.3645,"color":"transparent"},{"offset":0.375,"color":"transparent"},{"offset":0.375,"color":"#6c6cc8"},{"offset":0.3795,"color":"#6c6cc8"},{"offset":0.3795,"color":"transparent"},{"offset":0.39,"color":"transparent"},{"offset":0.39,"color":"#6c6cc8"},{"offset":0.3945,"color":"#6c6cc8"},{"offset":0.3945,"color":"transparent"},{"offset":0.405,"color":"transparent"},{"offset":0.405,"color":"#6c6cc8"},{"offset":0.4095,"color":"#6c6cc8"},{"offset":0.4095,"color":"transparent"},{"offset":0.42,"color":"transparent"},{"offset":0.42,"color":"#6c6cc8"},{"offset":0.4245,"color":"#6c6cc8"},{"offset":0.4245,"color":"transparent"},{"offset":0.435,"color":"transparent"},{"offset":0.435,"color":"#6c6cc8"},{"offset":0.4395,"color":"#6c6cc8"},{"offset":0.4395,"color":"transparent"},{"offset":0.45,"color":"transparent"},{"offset":0.45,"color":"#6c6cc8"},{"offset":0.4545,"color":"#6c6cc8"},{"offset":0.4545,"color":"transparent"},{"offset":0.465,"color":"transparent"},{"offset":0.465,"color":"#6c6cc8"},{"offset":0.4695,"color":"#6c6cc8"},{"offset":0.4695,"color":"transparent"},{"offset":0.48,"color":"transparent"},{"offset":0.48,"color":"#6c6cc8"},{"offset":0.4845,"color":"#6c6cc8"},{"offset":0.4845,"color":"transparent"},{"offset":0.495,"color":"transparent"},{"offset":0.495,"color":"#6c6cc8"},{"offset":0.4995,"color":"#6c6cc8"},{"offset":0.4995,"color":"transparent"},{"offset":0.51,"color":"transparent"},{"offset":0.51,"color":"#6c6cc8"},{"offset":0.5145,"color":"#6c6cc8"},{"offset":0.5145,"color":"transparent"},{"offset":0.525,"color":"transparent"},{"offset":0.525,"color":"#6c6cc8"},{"offset":0.5295,"color":"#6c6cc8"},{"offset":0.5295,"color":"transparent"},{"offset":0.54,"color":"transparent"},{"offset":0.54,"color":"#6c6cc8"},{"offset":0.5445,"color":"#6c6cc8"},{"offset":0.5445,"color":"transparent"},{"offset":0.555,"color":"transparent"},{"offset":0.555,"color":"#6c6cc8"},{"offset":0.5595,"color":"#6c6cc8"},{"offset":0.5595,"color":"transparent"},{"offset":0.57,"color":"transparent"},{"offset":0.57,"color":"#6c6cc8"},{"offset":0.5745,"color":"#6c6cc8"},{"offset":0.5745,"color":"transparent"},{"offset":0.585,"color":"transparent"},{"offset":0.585,"color":"#6c6cc8"},{"offset":0.5895,"color":"#6c6cc8"},{"offset":0.5895,"color":"transparent"},{"offset":1,"color":"transparent"}]}},"encoding":{}},
  {"data":{"name":"f6"},"mark":{"type":"line","interpolate":"monotone","color":"#3a3a3a","strokeWidth":1.1},"encoding":{}},
  {"data":{"name":"r6"},"mark":{"type":"line","color":"#262626","strokeWidth":0.9},"encoding":{}}
 ]}
]
}
